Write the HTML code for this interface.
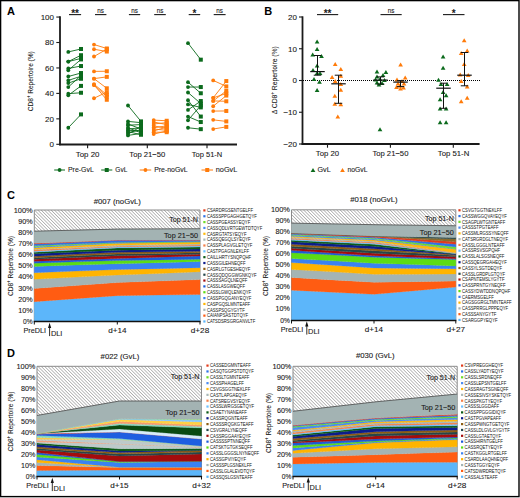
<!DOCTYPE html>
<html><head><meta charset="utf-8"><style>
html,body{margin:0;padding:0;background:#fff;}
body{width:520px;height:498px;overflow:hidden;position:relative;}
svg{position:absolute;left:0;top:0;font-family:"Liberation Sans", sans-serif;}
</style></head><body>
<svg width="520" height="498" viewBox="0 0 520 498">
<defs>
<pattern id="hatch" patternUnits="userSpaceOnUse" width="2.35" height="2.35" patternTransform="rotate(-45)">
<rect width="2.35" height="2.35" fill="#fff"/>
<rect x="0" y="0" width="0.7" height="2.35" fill="#a4a4a4"/>
</pattern>
</defs>
<rect x="0" y="0" width="520" height="498" fill="#fff"/>
<text x="7.00" y="15.20" font-size="11" text-anchor="start" font-weight="bold" fill="#000" stroke="#000" stroke-width="0.0" >A</text>
<line x1="60.00" y1="16.30" x2="60.00" y2="145.30" stroke="#1a1a1a" stroke-width="1.8" />
<line x1="59.10" y1="144.50" x2="237.00" y2="144.50" stroke="#1a1a1a" stroke-width="1.8" />
<line x1="56.30" y1="144.30" x2="60.00" y2="144.30" stroke="#1a1a1a" stroke-width="1.1" />
<text x="54.00" y="147.15" font-size="8.0" text-anchor="end" font-weight="normal" fill="#1a1a1a" stroke="#1a1a1a" stroke-width="0.1" >0</text>
<line x1="56.30" y1="118.85" x2="60.00" y2="118.85" stroke="#1a1a1a" stroke-width="1.1" />
<text x="54.00" y="121.70" font-size="8.0" text-anchor="end" font-weight="normal" fill="#1a1a1a" stroke="#1a1a1a" stroke-width="0.1" >20</text>
<line x1="56.30" y1="93.40" x2="60.00" y2="93.40" stroke="#1a1a1a" stroke-width="1.1" />
<text x="54.00" y="96.25" font-size="8.0" text-anchor="end" font-weight="normal" fill="#1a1a1a" stroke="#1a1a1a" stroke-width="0.1" >40</text>
<line x1="56.30" y1="67.95" x2="60.00" y2="67.95" stroke="#1a1a1a" stroke-width="1.1" />
<text x="54.00" y="70.80" font-size="8.0" text-anchor="end" font-weight="normal" fill="#1a1a1a" stroke="#1a1a1a" stroke-width="0.1" >60</text>
<line x1="56.30" y1="42.50" x2="60.00" y2="42.50" stroke="#1a1a1a" stroke-width="1.1" />
<text x="54.00" y="45.35" font-size="8.0" text-anchor="end" font-weight="normal" fill="#1a1a1a" stroke="#1a1a1a" stroke-width="0.1" >80</text>
<line x1="56.30" y1="17.05" x2="60.00" y2="17.05" stroke="#1a1a1a" stroke-width="1.1" />
<text x="54.00" y="19.90" font-size="8.0" text-anchor="end" font-weight="normal" fill="#1a1a1a" stroke="#1a1a1a" stroke-width="0.1" >100</text>
<line x1="87.60" y1="144.50" x2="87.60" y2="148.20" stroke="#1a1a1a" stroke-width="1.1" />
<line x1="147.30" y1="144.50" x2="147.30" y2="148.20" stroke="#1a1a1a" stroke-width="1.1" />
<line x1="207.00" y1="144.50" x2="207.00" y2="148.20" stroke="#1a1a1a" stroke-width="1.1" />
<text x="87.60" y="156.60" font-size="7.9" text-anchor="middle" font-weight="normal" fill="#1a1a1a" stroke="#1a1a1a" stroke-width="0.1" textLength="23.6" lengthAdjust="spacingAndGlyphs" >Top 20</text>
<text x="147.30" y="156.60" font-size="7.9" text-anchor="middle" font-weight="normal" fill="#1a1a1a" stroke="#1a1a1a" stroke-width="0.1" textLength="36" lengthAdjust="spacingAndGlyphs" >Top 21−50</text>
<text x="207.00" y="156.60" font-size="7.9" text-anchor="middle" font-weight="normal" fill="#1a1a1a" stroke="#1a1a1a" stroke-width="0.1" textLength="30.5" lengthAdjust="spacingAndGlyphs" >Top 51-N</text>
<text transform="translate(33.1,81.2) rotate(-90)" font-size="7.6" text-anchor="middle" fill="#1a1a1a" stroke="#1a1a1a" stroke-width="0.08" textLength="60" lengthAdjust="spacingAndGlyphs">CD8<tspan font-size="5" dy="-2.8">+</tspan><tspan dy="2.8"> Repertoire (%)</tspan></text>
<line x1="69.00" y1="14.60" x2="81.10" y2="14.60" stroke="#1a1a1a" stroke-width="1.1" />
<text x="75.05" y="16.60" font-size="10" text-anchor="middle" font-weight="bold" fill="#1a1a1a" stroke="#1a1a1a" stroke-width="0.0" >**</text>
<line x1="95.00" y1="14.60" x2="106.40" y2="14.60" stroke="#1a1a1a" stroke-width="1.1" />
<text x="100.70" y="12.60" font-size="6.3" text-anchor="middle" font-weight="normal" fill="#1a1a1a" stroke="#1a1a1a" stroke-width="0.1" >ns</text>
<line x1="128.90" y1="14.60" x2="140.20" y2="14.60" stroke="#1a1a1a" stroke-width="1.1" />
<text x="134.55" y="12.60" font-size="6.3" text-anchor="middle" font-weight="normal" fill="#1a1a1a" stroke="#1a1a1a" stroke-width="0.1" >ns</text>
<line x1="154.20" y1="14.60" x2="165.80" y2="14.60" stroke="#1a1a1a" stroke-width="1.1" />
<text x="160.00" y="12.60" font-size="6.3" text-anchor="middle" font-weight="normal" fill="#1a1a1a" stroke="#1a1a1a" stroke-width="0.1" >ns</text>
<line x1="188.70" y1="14.60" x2="200.20" y2="14.60" stroke="#1a1a1a" stroke-width="1.1" />
<text x="194.45" y="16.60" font-size="10" text-anchor="middle" font-weight="bold" fill="#1a1a1a" stroke="#1a1a1a" stroke-width="0.0" >*</text>
<line x1="213.70" y1="14.60" x2="225.60" y2="14.60" stroke="#1a1a1a" stroke-width="1.1" />
<text x="219.65" y="12.60" font-size="6.3" text-anchor="middle" font-weight="normal" fill="#1a1a1a" stroke="#1a1a1a" stroke-width="0.1" >ns</text>
<line x1="68.30" y1="51.92" x2="81.00" y2="48.99" stroke="#0b6a1c" stroke-width="0.9" />
<line x1="68.30" y1="61.59" x2="81.00" y2="55.23" stroke="#0b6a1c" stroke-width="0.9" />
<line x1="68.30" y1="61.59" x2="81.00" y2="58.41" stroke="#0b6a1c" stroke-width="0.9" />
<line x1="68.30" y1="68.46" x2="81.00" y2="66.04" stroke="#0b6a1c" stroke-width="0.9" />
<line x1="68.30" y1="70.24" x2="81.00" y2="59.42" stroke="#0b6a1c" stroke-width="0.9" />
<line x1="68.30" y1="76.48" x2="81.00" y2="73.04" stroke="#0b6a1c" stroke-width="0.9" />
<line x1="68.30" y1="80.42" x2="81.00" y2="76.22" stroke="#0b6a1c" stroke-width="0.9" />
<line x1="68.30" y1="83.09" x2="81.00" y2="78.77" stroke="#0b6a1c" stroke-width="0.9" />
<line x1="68.30" y1="87.04" x2="81.00" y2="75.59" stroke="#0b6a1c" stroke-width="0.9" />
<line x1="68.30" y1="93.65" x2="81.00" y2="92.76" stroke="#0b6a1c" stroke-width="0.9" />
<line x1="68.30" y1="95.31" x2="81.00" y2="85.89" stroke="#0b6a1c" stroke-width="0.9" />
<line x1="68.30" y1="127.76" x2="81.00" y2="114.40" stroke="#0b6a1c" stroke-width="0.9" />
<circle cx="68.3" cy="51.92" r="1.9" fill="#0b6a1c"/>
<rect x="79.00" y="46.99" width="4" height="4" fill="#0b6a1c"/>
<circle cx="68.3" cy="61.59" r="1.9" fill="#0b6a1c"/>
<rect x="79.00" y="53.23" width="4" height="4" fill="#0b6a1c"/>
<circle cx="68.3" cy="61.59" r="1.9" fill="#0b6a1c"/>
<rect x="79.00" y="56.41" width="4" height="4" fill="#0b6a1c"/>
<circle cx="68.3" cy="68.46" r="1.9" fill="#0b6a1c"/>
<rect x="79.00" y="64.04" width="4" height="4" fill="#0b6a1c"/>
<circle cx="68.3" cy="70.24" r="1.9" fill="#0b6a1c"/>
<rect x="79.00" y="57.42" width="4" height="4" fill="#0b6a1c"/>
<circle cx="68.3" cy="76.48" r="1.9" fill="#0b6a1c"/>
<rect x="79.00" y="71.04" width="4" height="4" fill="#0b6a1c"/>
<circle cx="68.3" cy="80.42" r="1.9" fill="#0b6a1c"/>
<rect x="79.00" y="74.22" width="4" height="4" fill="#0b6a1c"/>
<circle cx="68.3" cy="83.09" r="1.9" fill="#0b6a1c"/>
<rect x="79.00" y="76.77" width="4" height="4" fill="#0b6a1c"/>
<circle cx="68.3" cy="87.04" r="1.9" fill="#0b6a1c"/>
<rect x="79.00" y="73.59" width="4" height="4" fill="#0b6a1c"/>
<circle cx="68.3" cy="93.65" r="1.9" fill="#0b6a1c"/>
<rect x="79.00" y="90.76" width="4" height="4" fill="#0b6a1c"/>
<circle cx="68.3" cy="95.31" r="1.9" fill="#0b6a1c"/>
<rect x="79.00" y="83.89" width="4" height="4" fill="#0b6a1c"/>
<circle cx="68.3" cy="127.76" r="1.9" fill="#0b6a1c"/>
<rect x="79.00" y="112.40" width="4" height="4" fill="#0b6a1c"/>
<line x1="94.00" y1="44.54" x2="106.80" y2="48.48" stroke="#ff7b0a" stroke-width="0.9" />
<line x1="94.00" y1="49.24" x2="106.80" y2="51.53" stroke="#ff7b0a" stroke-width="0.9" />
<line x1="94.00" y1="56.50" x2="106.80" y2="49.12" stroke="#ff7b0a" stroke-width="0.9" />
<line x1="94.00" y1="71.39" x2="106.80" y2="71.26" stroke="#ff7b0a" stroke-width="0.9" />
<line x1="94.00" y1="78.64" x2="106.80" y2="76.86" stroke="#ff7b0a" stroke-width="0.9" />
<line x1="94.00" y1="78.64" x2="106.80" y2="88.31" stroke="#ff7b0a" stroke-width="0.9" />
<line x1="94.00" y1="84.24" x2="106.80" y2="94.67" stroke="#ff7b0a" stroke-width="0.9" />
<line x1="94.00" y1="85.00" x2="106.80" y2="99.76" stroke="#ff7b0a" stroke-width="0.9" />
<line x1="94.00" y1="98.24" x2="106.80" y2="92.13" stroke="#ff7b0a" stroke-width="0.9" />
<line x1="94.00" y1="85.00" x2="106.80" y2="96.58" stroke="#ff7b0a" stroke-width="0.9" />
<circle cx="94.0" cy="44.54" r="1.9" fill="#ff7b0a"/>
<rect x="104.80" y="46.48" width="4" height="4" fill="#ff7b0a"/>
<circle cx="94.0" cy="49.24" r="1.9" fill="#ff7b0a"/>
<rect x="104.80" y="49.53" width="4" height="4" fill="#ff7b0a"/>
<circle cx="94.0" cy="56.50" r="1.9" fill="#ff7b0a"/>
<rect x="104.80" y="47.12" width="4" height="4" fill="#ff7b0a"/>
<circle cx="94.0" cy="71.39" r="1.9" fill="#ff7b0a"/>
<rect x="104.80" y="69.26" width="4" height="4" fill="#ff7b0a"/>
<circle cx="94.0" cy="78.64" r="1.9" fill="#ff7b0a"/>
<rect x="104.80" y="74.86" width="4" height="4" fill="#ff7b0a"/>
<circle cx="94.0" cy="78.64" r="1.9" fill="#ff7b0a"/>
<rect x="104.80" y="86.31" width="4" height="4" fill="#ff7b0a"/>
<circle cx="94.0" cy="84.24" r="1.9" fill="#ff7b0a"/>
<rect x="104.80" y="92.67" width="4" height="4" fill="#ff7b0a"/>
<circle cx="94.0" cy="85.00" r="1.9" fill="#ff7b0a"/>
<rect x="104.80" y="97.76" width="4" height="4" fill="#ff7b0a"/>
<circle cx="94.0" cy="98.24" r="1.9" fill="#ff7b0a"/>
<rect x="104.80" y="90.13" width="4" height="4" fill="#ff7b0a"/>
<circle cx="94.0" cy="85.00" r="1.9" fill="#ff7b0a"/>
<rect x="104.80" y="94.58" width="4" height="4" fill="#ff7b0a"/>
<line x1="128.00" y1="105.49" x2="141.00" y2="121.40" stroke="#0b6a1c" stroke-width="0.9" />
<line x1="128.00" y1="121.40" x2="141.00" y2="122.67" stroke="#0b6a1c" stroke-width="0.9" />
<line x1="128.00" y1="123.94" x2="141.00" y2="129.03" stroke="#0b6a1c" stroke-width="0.9" />
<line x1="128.00" y1="125.21" x2="141.00" y2="124.58" stroke="#0b6a1c" stroke-width="0.9" />
<line x1="128.00" y1="127.76" x2="141.00" y2="132.85" stroke="#0b6a1c" stroke-width="0.9" />
<line x1="128.00" y1="129.03" x2="141.00" y2="127.76" stroke="#0b6a1c" stroke-width="0.9" />
<line x1="128.00" y1="130.30" x2="141.00" y2="130.94" stroke="#0b6a1c" stroke-width="0.9" />
<line x1="128.00" y1="131.58" x2="141.00" y2="134.76" stroke="#0b6a1c" stroke-width="0.9" />
<line x1="128.00" y1="132.85" x2="141.00" y2="129.67" stroke="#0b6a1c" stroke-width="0.9" />
<line x1="128.00" y1="134.12" x2="141.00" y2="126.49" stroke="#0b6a1c" stroke-width="0.9" />
<line x1="128.00" y1="135.39" x2="141.00" y2="133.48" stroke="#0b6a1c" stroke-width="0.9" />
<circle cx="128.0" cy="105.49" r="1.9" fill="#0b6a1c"/>
<rect x="139.00" y="119.40" width="4" height="4" fill="#0b6a1c"/>
<circle cx="128.0" cy="121.40" r="1.9" fill="#0b6a1c"/>
<rect x="139.00" y="120.67" width="4" height="4" fill="#0b6a1c"/>
<circle cx="128.0" cy="123.94" r="1.9" fill="#0b6a1c"/>
<rect x="139.00" y="127.03" width="4" height="4" fill="#0b6a1c"/>
<circle cx="128.0" cy="125.21" r="1.9" fill="#0b6a1c"/>
<rect x="139.00" y="122.58" width="4" height="4" fill="#0b6a1c"/>
<circle cx="128.0" cy="127.76" r="1.9" fill="#0b6a1c"/>
<rect x="139.00" y="130.85" width="4" height="4" fill="#0b6a1c"/>
<circle cx="128.0" cy="129.03" r="1.9" fill="#0b6a1c"/>
<rect x="139.00" y="125.76" width="4" height="4" fill="#0b6a1c"/>
<circle cx="128.0" cy="130.30" r="1.9" fill="#0b6a1c"/>
<rect x="139.00" y="128.94" width="4" height="4" fill="#0b6a1c"/>
<circle cx="128.0" cy="131.58" r="1.9" fill="#0b6a1c"/>
<rect x="139.00" y="132.76" width="4" height="4" fill="#0b6a1c"/>
<circle cx="128.0" cy="132.85" r="1.9" fill="#0b6a1c"/>
<rect x="139.00" y="127.67" width="4" height="4" fill="#0b6a1c"/>
<circle cx="128.0" cy="134.12" r="1.9" fill="#0b6a1c"/>
<rect x="139.00" y="124.49" width="4" height="4" fill="#0b6a1c"/>
<circle cx="128.0" cy="135.39" r="1.9" fill="#0b6a1c"/>
<rect x="139.00" y="131.48" width="4" height="4" fill="#0b6a1c"/>
<line x1="153.70" y1="120.12" x2="166.70" y2="120.76" stroke="#ff7b0a" stroke-width="0.9" />
<line x1="153.70" y1="122.03" x2="166.70" y2="124.58" stroke="#ff7b0a" stroke-width="0.9" />
<line x1="153.70" y1="123.94" x2="166.70" y2="122.67" stroke="#ff7b0a" stroke-width="0.9" />
<line x1="153.70" y1="125.85" x2="166.70" y2="128.39" stroke="#ff7b0a" stroke-width="0.9" />
<line x1="153.70" y1="127.76" x2="166.70" y2="125.85" stroke="#ff7b0a" stroke-width="0.9" />
<line x1="153.70" y1="129.03" x2="166.70" y2="130.30" stroke="#ff7b0a" stroke-width="0.9" />
<line x1="153.70" y1="130.94" x2="166.70" y2="127.12" stroke="#ff7b0a" stroke-width="0.9" />
<line x1="153.70" y1="132.21" x2="166.70" y2="132.21" stroke="#ff7b0a" stroke-width="0.9" />
<line x1="153.70" y1="134.12" x2="166.70" y2="130.94" stroke="#ff7b0a" stroke-width="0.9" />
<circle cx="153.7" cy="120.12" r="1.9" fill="#ff7b0a"/>
<rect x="164.70" y="118.76" width="4" height="4" fill="#ff7b0a"/>
<circle cx="153.7" cy="122.03" r="1.9" fill="#ff7b0a"/>
<rect x="164.70" y="122.58" width="4" height="4" fill="#ff7b0a"/>
<circle cx="153.7" cy="123.94" r="1.9" fill="#ff7b0a"/>
<rect x="164.70" y="120.67" width="4" height="4" fill="#ff7b0a"/>
<circle cx="153.7" cy="125.85" r="1.9" fill="#ff7b0a"/>
<rect x="164.70" y="126.39" width="4" height="4" fill="#ff7b0a"/>
<circle cx="153.7" cy="127.76" r="1.9" fill="#ff7b0a"/>
<rect x="164.70" y="123.85" width="4" height="4" fill="#ff7b0a"/>
<circle cx="153.7" cy="129.03" r="1.9" fill="#ff7b0a"/>
<rect x="164.70" y="128.30" width="4" height="4" fill="#ff7b0a"/>
<circle cx="153.7" cy="130.94" r="1.9" fill="#ff7b0a"/>
<rect x="164.70" y="125.12" width="4" height="4" fill="#ff7b0a"/>
<circle cx="153.7" cy="132.21" r="1.9" fill="#ff7b0a"/>
<rect x="164.70" y="130.21" width="4" height="4" fill="#ff7b0a"/>
<circle cx="153.7" cy="134.12" r="1.9" fill="#ff7b0a"/>
<rect x="164.70" y="128.94" width="4" height="4" fill="#ff7b0a"/>
<line x1="188.00" y1="43.14" x2="200.80" y2="59.68" stroke="#0b6a1c" stroke-width="0.9" />
<line x1="188.00" y1="82.20" x2="200.80" y2="93.27" stroke="#0b6a1c" stroke-width="0.9" />
<line x1="188.00" y1="87.04" x2="200.80" y2="87.04" stroke="#0b6a1c" stroke-width="0.9" />
<line x1="188.00" y1="92.51" x2="200.80" y2="103.58" stroke="#0b6a1c" stroke-width="0.9" />
<line x1="188.00" y1="100.27" x2="200.80" y2="116.56" stroke="#0b6a1c" stroke-width="0.9" />
<line x1="188.00" y1="104.47" x2="200.80" y2="107.40" stroke="#0b6a1c" stroke-width="0.9" />
<line x1="188.00" y1="109.94" x2="200.80" y2="101.04" stroke="#0b6a1c" stroke-width="0.9" />
<line x1="188.00" y1="116.56" x2="200.80" y2="122.03" stroke="#0b6a1c" stroke-width="0.9" />
<line x1="188.00" y1="120.25" x2="200.80" y2="105.49" stroke="#0b6a1c" stroke-width="0.9" />
<line x1="188.00" y1="127.76" x2="200.80" y2="129.16" stroke="#0b6a1c" stroke-width="0.9" />
<circle cx="188.0" cy="43.14" r="1.9" fill="#0b6a1c"/>
<rect x="198.80" y="57.68" width="4" height="4" fill="#0b6a1c"/>
<circle cx="188.0" cy="82.20" r="1.9" fill="#0b6a1c"/>
<rect x="198.80" y="91.27" width="4" height="4" fill="#0b6a1c"/>
<circle cx="188.0" cy="87.04" r="1.9" fill="#0b6a1c"/>
<rect x="198.80" y="85.04" width="4" height="4" fill="#0b6a1c"/>
<circle cx="188.0" cy="92.51" r="1.9" fill="#0b6a1c"/>
<rect x="198.80" y="101.58" width="4" height="4" fill="#0b6a1c"/>
<circle cx="188.0" cy="100.27" r="1.9" fill="#0b6a1c"/>
<rect x="198.80" y="114.56" width="4" height="4" fill="#0b6a1c"/>
<circle cx="188.0" cy="104.47" r="1.9" fill="#0b6a1c"/>
<rect x="198.80" y="105.40" width="4" height="4" fill="#0b6a1c"/>
<circle cx="188.0" cy="109.94" r="1.9" fill="#0b6a1c"/>
<rect x="198.80" y="99.04" width="4" height="4" fill="#0b6a1c"/>
<circle cx="188.0" cy="116.56" r="1.9" fill="#0b6a1c"/>
<rect x="198.80" y="120.03" width="4" height="4" fill="#0b6a1c"/>
<circle cx="188.0" cy="120.25" r="1.9" fill="#0b6a1c"/>
<rect x="198.80" y="103.49" width="4" height="4" fill="#0b6a1c"/>
<circle cx="188.0" cy="127.76" r="1.9" fill="#0b6a1c"/>
<rect x="198.80" y="127.16" width="4" height="4" fill="#0b6a1c"/>
<line x1="213.20" y1="80.42" x2="226.30" y2="86.40" stroke="#ff7b0a" stroke-width="0.9" />
<line x1="213.20" y1="97.85" x2="226.30" y2="81.06" stroke="#ff7b0a" stroke-width="0.9" />
<line x1="213.20" y1="100.91" x2="226.30" y2="90.86" stroke="#ff7b0a" stroke-width="0.9" />
<line x1="213.20" y1="97.85" x2="226.30" y2="93.40" stroke="#ff7b0a" stroke-width="0.9" />
<line x1="213.20" y1="106.25" x2="226.30" y2="95.56" stroke="#ff7b0a" stroke-width="0.9" />
<line x1="213.20" y1="100.91" x2="226.30" y2="101.29" stroke="#ff7b0a" stroke-width="0.9" />
<line x1="213.20" y1="111.09" x2="226.30" y2="110.96" stroke="#ff7b0a" stroke-width="0.9" />
<line x1="213.20" y1="119.87" x2="226.30" y2="121.40" stroke="#ff7b0a" stroke-width="0.9" />
<line x1="213.20" y1="129.03" x2="226.30" y2="126.87" stroke="#ff7b0a" stroke-width="0.9" />
<circle cx="213.2" cy="80.42" r="1.9" fill="#ff7b0a"/>
<rect x="224.30" y="84.40" width="4" height="4" fill="#ff7b0a"/>
<circle cx="213.2" cy="97.85" r="1.9" fill="#ff7b0a"/>
<rect x="224.30" y="79.06" width="4" height="4" fill="#ff7b0a"/>
<circle cx="213.2" cy="100.91" r="1.9" fill="#ff7b0a"/>
<rect x="224.30" y="88.86" width="4" height="4" fill="#ff7b0a"/>
<circle cx="213.2" cy="97.85" r="1.9" fill="#ff7b0a"/>
<rect x="224.30" y="91.40" width="4" height="4" fill="#ff7b0a"/>
<circle cx="213.2" cy="106.25" r="1.9" fill="#ff7b0a"/>
<rect x="224.30" y="93.56" width="4" height="4" fill="#ff7b0a"/>
<circle cx="213.2" cy="100.91" r="1.9" fill="#ff7b0a"/>
<rect x="224.30" y="99.29" width="4" height="4" fill="#ff7b0a"/>
<circle cx="213.2" cy="111.09" r="1.9" fill="#ff7b0a"/>
<rect x="224.30" y="108.96" width="4" height="4" fill="#ff7b0a"/>
<circle cx="213.2" cy="119.87" r="1.9" fill="#ff7b0a"/>
<rect x="224.30" y="119.40" width="4" height="4" fill="#ff7b0a"/>
<circle cx="213.2" cy="129.03" r="1.9" fill="#ff7b0a"/>
<rect x="224.30" y="124.87" width="4" height="4" fill="#ff7b0a"/>
<line x1="54.20" y1="170.00" x2="65.00" y2="170.00" stroke="#0b6a1c" stroke-width="1.0" />
<circle cx="59.60" cy="170" r="1.9" fill="#0b6a1c"/>
<text x="68.00" y="172.20" font-size="7.6" text-anchor="start" font-weight="normal" fill="#1a1a1a" stroke="#1a1a1a" stroke-width="0.1" textLength="25.8" lengthAdjust="spacingAndGlyphs" >Pre-GvL</text>
<line x1="101.20" y1="170.00" x2="112.30" y2="170.00" stroke="#0b6a1c" stroke-width="1.0" />
<rect x="104.75" y="168" width="4" height="4" fill="#0b6a1c"/>
<text x="115.30" y="172.20" font-size="7.6" text-anchor="start" font-weight="normal" fill="#1a1a1a" stroke="#1a1a1a" stroke-width="0.1" textLength="12" lengthAdjust="spacingAndGlyphs" >GvL</text>
<line x1="139.70" y1="170.00" x2="151.20" y2="170.00" stroke="#ff7b0a" stroke-width="1.0" />
<circle cx="145.45" cy="170" r="1.9" fill="#ff7b0a"/>
<text x="154.20" y="172.20" font-size="7.6" text-anchor="start" font-weight="normal" fill="#1a1a1a" stroke="#1a1a1a" stroke-width="0.1" textLength="33.5" lengthAdjust="spacingAndGlyphs" >Pre-noGvL</text>
<line x1="201.50" y1="170.00" x2="213.00" y2="170.00" stroke="#ff7b0a" stroke-width="1.0" />
<rect x="205.25" y="168" width="4" height="4" fill="#ff7b0a"/>
<text x="215.80" y="172.20" font-size="7.6" text-anchor="start" font-weight="normal" fill="#1a1a1a" stroke="#1a1a1a" stroke-width="0.1" textLength="21.5" lengthAdjust="spacingAndGlyphs" >noGvL</text>
<text x="264.30" y="15.20" font-size="11" text-anchor="start" font-weight="bold" fill="#000" stroke="#000" stroke-width="0.0" >B</text>
<line x1="302.50" y1="16.30" x2="302.50" y2="144.90" stroke="#1a1a1a" stroke-width="1.8" />
<line x1="301.60" y1="144.00" x2="479.60" y2="144.00" stroke="#1a1a1a" stroke-width="1.8" />
<line x1="299.00" y1="17.00" x2="302.50" y2="17.00" stroke="#1a1a1a" stroke-width="1.1" />
<text x="297.00" y="19.85" font-size="8.0" text-anchor="end" font-weight="normal" fill="#1a1a1a" stroke="#1a1a1a" stroke-width="0.1" >20</text>
<line x1="299.00" y1="48.75" x2="302.50" y2="48.75" stroke="#1a1a1a" stroke-width="1.1" />
<text x="297.00" y="51.60" font-size="8.0" text-anchor="end" font-weight="normal" fill="#1a1a1a" stroke="#1a1a1a" stroke-width="0.1" >10</text>
<line x1="299.00" y1="80.50" x2="302.50" y2="80.50" stroke="#1a1a1a" stroke-width="1.1" />
<text x="297.00" y="83.35" font-size="8.0" text-anchor="end" font-weight="normal" fill="#1a1a1a" stroke="#1a1a1a" stroke-width="0.1" >0</text>
<line x1="299.00" y1="112.25" x2="302.50" y2="112.25" stroke="#1a1a1a" stroke-width="1.1" />
<text x="297.00" y="115.10" font-size="8.0" text-anchor="end" font-weight="normal" fill="#1a1a1a" stroke="#1a1a1a" stroke-width="0.1" >−10</text>
<line x1="299.00" y1="144.00" x2="302.50" y2="144.00" stroke="#1a1a1a" stroke-width="1.1" />
<text x="297.00" y="146.85" font-size="8.0" text-anchor="end" font-weight="normal" fill="#1a1a1a" stroke="#1a1a1a" stroke-width="0.1" >−20</text>
<line x1="303.00" y1="80.50" x2="480.00" y2="80.50" stroke="#000" stroke-width="1.0" stroke-dasharray="1,1" shape-rendering="crispEdges"/>
<line x1="327.50" y1="144.00" x2="327.50" y2="147.70" stroke="#1a1a1a" stroke-width="1.1" />
<line x1="390.40" y1="144.00" x2="390.40" y2="147.70" stroke="#1a1a1a" stroke-width="1.1" />
<line x1="453.30" y1="144.00" x2="453.30" y2="147.70" stroke="#1a1a1a" stroke-width="1.1" />
<text x="327.50" y="156.40" font-size="7.9" text-anchor="middle" font-weight="normal" fill="#1a1a1a" stroke="#1a1a1a" stroke-width="0.1" textLength="23.3" lengthAdjust="spacingAndGlyphs" >Top 20</text>
<text x="390.40" y="156.40" font-size="7.9" text-anchor="middle" font-weight="normal" fill="#1a1a1a" stroke="#1a1a1a" stroke-width="0.1" textLength="36" lengthAdjust="spacingAndGlyphs" >Top 21−50</text>
<text x="453.50" y="156.40" font-size="7.9" text-anchor="middle" font-weight="normal" fill="#1a1a1a" stroke="#1a1a1a" stroke-width="0.1" textLength="31.5" lengthAdjust="spacingAndGlyphs" >Top 51-N</text>
<text transform="translate(276.8,80.2) rotate(-90)" font-size="7.6" text-anchor="middle" fill="#1a1a1a" stroke="#1a1a1a" stroke-width="0.08" textLength="68" lengthAdjust="spacingAndGlyphs">Δ CD8<tspan font-size="5" dy="-2.8">+</tspan><tspan dy="2.8"> Repertoire (%)</tspan></text>
<line x1="317.00" y1="14.60" x2="338.20" y2="14.60" stroke="#1a1a1a" stroke-width="1.1" />
<text x="327.60" y="16.60" font-size="10" text-anchor="middle" font-weight="bold" fill="#1a1a1a" stroke="#1a1a1a" stroke-width="0.0" >**</text>
<line x1="380.50" y1="14.60" x2="401.70" y2="14.60" stroke="#1a1a1a" stroke-width="1.1" />
<text x="391.10" y="12.60" font-size="6.3" text-anchor="middle" font-weight="normal" fill="#1a1a1a" stroke="#1a1a1a" stroke-width="0.1" >ns</text>
<line x1="443.00" y1="14.60" x2="464.50" y2="14.60" stroke="#1a1a1a" stroke-width="1.1" />
<text x="453.75" y="16.60" font-size="10" text-anchor="middle" font-weight="bold" fill="#1a1a1a" stroke="#1a1a1a" stroke-width="0.0" >*</text>
<path d="M314.75,43.50 L319.45,43.50 L317.10,39.50 Z" fill="#0b6a1c"/>
<path d="M314.75,51.00 L319.45,51.00 L317.10,47.00 Z" fill="#0b6a1c"/>
<path d="M310.35,56.40 L315.05,56.40 L312.70,52.40 Z" fill="#0b6a1c"/>
<path d="M319.15,58.00 L323.85,58.00 L321.50,54.00 Z" fill="#0b6a1c"/>
<path d="M314.75,67.60 L319.45,67.60 L317.10,63.60 Z" fill="#0b6a1c"/>
<path d="M310.65,72.10 L315.35,72.10 L313.00,68.10 Z" fill="#0b6a1c"/>
<path d="M314.75,75.10 L319.45,75.10 L317.10,71.10 Z" fill="#0b6a1c"/>
<path d="M317.65,75.10 L322.35,75.10 L320.00,71.10 Z" fill="#0b6a1c"/>
<path d="M311.65,81.10 L316.35,81.10 L314.00,77.10 Z" fill="#0b6a1c"/>
<path d="M317.15,83.70 L321.85,83.70 L319.50,79.70 Z" fill="#0b6a1c"/>
<path d="M314.75,92.10 L319.45,92.10 L317.10,88.10 Z" fill="#0b6a1c"/>
<path d="M332.85,66.00 L337.55,66.00 L335.20,62.00 Z" fill="#ff7b0a"/>
<path d="M338.45,71.10 L343.15,71.10 L340.80,67.10 Z" fill="#ff7b0a"/>
<path d="M329.75,79.10 L334.45,79.10 L332.10,75.10 Z" fill="#ff7b0a"/>
<path d="M338.45,77.70 L343.15,77.70 L340.80,73.70 Z" fill="#ff7b0a"/>
<path d="M332.85,83.10 L337.55,83.10 L335.20,79.10 Z" fill="#ff7b0a"/>
<path d="M338.45,86.10 L343.15,86.10 L340.80,82.10 Z" fill="#ff7b0a"/>
<path d="M338.45,91.70 L343.15,91.70 L340.80,87.70 Z" fill="#ff7b0a"/>
<path d="M332.45,97.80 L337.15,97.80 L334.80,93.80 Z" fill="#ff7b0a"/>
<path d="M332.45,105.80 L337.15,105.80 L334.80,101.80 Z" fill="#ff7b0a"/>
<path d="M338.45,106.20 L343.15,106.20 L340.80,102.20 Z" fill="#ff7b0a"/>
<path d="M335.45,118.60 L340.15,118.60 L337.80,114.60 Z" fill="#ff7b0a"/>
<path d="M374.65,73.50 L379.35,73.50 L377.00,69.50 Z" fill="#0b6a1c"/>
<path d="M383.55,73.90 L388.25,73.90 L385.90,69.90 Z" fill="#0b6a1c"/>
<path d="M380.65,76.90 L385.35,76.90 L383.00,72.90 Z" fill="#0b6a1c"/>
<path d="M374.65,78.50 L379.35,78.50 L377.00,74.50 Z" fill="#0b6a1c"/>
<path d="M373.15,81.40 L377.85,81.40 L375.50,77.40 Z" fill="#0b6a1c"/>
<path d="M377.65,80.90 L382.35,80.90 L380.00,76.90 Z" fill="#0b6a1c"/>
<path d="M382.15,81.90 L386.85,81.90 L384.50,77.90 Z" fill="#0b6a1c"/>
<path d="M374.65,84.40 L379.35,84.40 L377.00,80.40 Z" fill="#0b6a1c"/>
<path d="M379.65,84.90 L384.35,84.90 L382.00,80.90 Z" fill="#0b6a1c"/>
<path d="M376.65,86.40 L381.35,86.40 L379.00,82.40 Z" fill="#0b6a1c"/>
<path d="M377.65,131.20 L382.35,131.20 L380.00,127.20 Z" fill="#0b6a1c"/>
<path d="M398.25,66.40 L402.95,66.40 L400.60,62.40 Z" fill="#ff7b0a"/>
<path d="M402.85,79.50 L407.55,79.50 L405.20,75.50 Z" fill="#ff7b0a"/>
<path d="M394.65,81.50 L399.35,81.50 L397.00,77.50 Z" fill="#ff7b0a"/>
<path d="M399.65,82.90 L404.35,82.90 L402.00,78.90 Z" fill="#ff7b0a"/>
<path d="M395.65,85.40 L400.35,85.40 L398.00,81.40 Z" fill="#ff7b0a"/>
<path d="M401.65,85.40 L406.35,85.40 L404.00,81.40 Z" fill="#ff7b0a"/>
<path d="M397.65,87.40 L402.35,87.40 L400.00,83.40 Z" fill="#ff7b0a"/>
<path d="M394.15,88.90 L398.85,88.90 L396.50,84.90 Z" fill="#ff7b0a"/>
<path d="M401.15,89.40 L405.85,89.40 L403.50,85.40 Z" fill="#ff7b0a"/>
<path d="M398.15,90.40 L402.85,90.40 L400.50,86.40 Z" fill="#ff7b0a"/>
<path d="M440.75,58.60 L445.45,58.60 L443.10,54.60 Z" fill="#0b6a1c"/>
<path d="M440.75,69.70 L445.45,69.70 L443.10,65.70 Z" fill="#0b6a1c"/>
<path d="M436.15,81.70 L440.85,81.70 L438.50,77.70 Z" fill="#0b6a1c"/>
<path d="M438.65,86.10 L443.35,86.10 L441.00,82.10 Z" fill="#0b6a1c"/>
<path d="M444.75,86.10 L449.45,86.10 L447.10,82.10 Z" fill="#0b6a1c"/>
<path d="M440.75,94.10 L445.45,94.10 L443.10,90.10 Z" fill="#0b6a1c"/>
<path d="M443.75,97.20 L448.45,97.20 L446.10,93.20 Z" fill="#0b6a1c"/>
<path d="M437.75,101.20 L442.45,101.20 L440.10,97.20 Z" fill="#0b6a1c"/>
<path d="M437.75,110.60 L442.45,110.60 L440.10,106.60 Z" fill="#0b6a1c"/>
<path d="M443.75,110.60 L448.45,110.60 L446.10,106.60 Z" fill="#0b6a1c"/>
<path d="M437.75,124.30 L442.45,124.30 L440.10,120.30 Z" fill="#0b6a1c"/>
<path d="M443.75,124.30 L448.45,124.30 L446.10,120.30 Z" fill="#0b6a1c"/>
<path d="M461.85,42.30 L466.55,42.30 L464.20,38.30 Z" fill="#ff7b0a"/>
<path d="M458.85,55.00 L463.55,55.00 L461.20,51.00 Z" fill="#ff7b0a"/>
<path d="M464.85,52.60 L469.55,52.60 L467.20,48.60 Z" fill="#ff7b0a"/>
<path d="M461.85,66.00 L466.55,66.00 L464.20,62.00 Z" fill="#ff7b0a"/>
<path d="M457.85,76.50 L462.55,76.50 L460.20,72.50 Z" fill="#ff7b0a"/>
<path d="M465.85,77.10 L470.55,77.10 L468.20,73.10 Z" fill="#ff7b0a"/>
<path d="M458.85,83.10 L463.55,83.10 L461.20,79.10 Z" fill="#ff7b0a"/>
<path d="M464.85,88.50 L469.55,88.50 L467.20,84.50 Z" fill="#ff7b0a"/>
<path d="M464.85,99.80 L469.55,99.80 L467.20,95.80 Z" fill="#ff7b0a"/>
<path d="M458.85,103.20 L463.55,103.20 L461.20,99.20 Z" fill="#ff7b0a"/>
<line x1="317.50" y1="55.50" x2="317.50" y2="75.20" stroke="#111" stroke-width="1.05" />
<line x1="313.75" y1="55.50" x2="321.25" y2="55.50" stroke="#111" stroke-width="1.0" />
<line x1="313.75" y1="75.20" x2="321.25" y2="75.20" stroke="#111" stroke-width="1.0" />
<line x1="310.25" y1="71.60" x2="324.75" y2="71.60" stroke="#111" stroke-width="1.2" />
<line x1="338.50" y1="75.20" x2="338.50" y2="103.30" stroke="#111" stroke-width="1.05" />
<line x1="334.75" y1="75.20" x2="342.25" y2="75.20" stroke="#111" stroke-width="1.0" />
<line x1="334.75" y1="103.30" x2="342.25" y2="103.30" stroke="#111" stroke-width="1.0" />
<line x1="331.25" y1="83.80" x2="345.75" y2="83.80" stroke="#111" stroke-width="1.2" />
<line x1="380.50" y1="76.90" x2="380.50" y2="84.10" stroke="#111" stroke-width="1.05" />
<line x1="376.75" y1="76.90" x2="384.25" y2="76.90" stroke="#111" stroke-width="1.0" />
<line x1="376.75" y1="84.10" x2="384.25" y2="84.10" stroke="#111" stroke-width="1.0" />
<line x1="373.25" y1="80.10" x2="387.75" y2="80.10" stroke="#111" stroke-width="1.2" />
<line x1="400.50" y1="80.60" x2="400.50" y2="86.60" stroke="#111" stroke-width="1.05" />
<line x1="396.75" y1="80.60" x2="404.25" y2="80.60" stroke="#111" stroke-width="1.0" />
<line x1="396.75" y1="86.60" x2="404.25" y2="86.60" stroke="#111" stroke-width="1.0" />
<line x1="393.25" y1="82.10" x2="407.75" y2="82.10" stroke="#111" stroke-width="1.2" />
<line x1="443.50" y1="83.20" x2="443.50" y2="108.30" stroke="#111" stroke-width="1.05" />
<line x1="439.75" y1="83.20" x2="447.25" y2="83.20" stroke="#111" stroke-width="1.0" />
<line x1="439.75" y1="108.30" x2="447.25" y2="108.30" stroke="#111" stroke-width="1.0" />
<line x1="436.25" y1="88.20" x2="450.75" y2="88.20" stroke="#111" stroke-width="1.2" />
<line x1="464.50" y1="52.50" x2="464.50" y2="85.80" stroke="#111" stroke-width="1.05" />
<line x1="460.75" y1="52.50" x2="468.25" y2="52.50" stroke="#111" stroke-width="1.0" />
<line x1="460.75" y1="85.80" x2="468.25" y2="85.80" stroke="#111" stroke-width="1.0" />
<line x1="457.25" y1="75.20" x2="471.75" y2="75.20" stroke="#111" stroke-width="1.2" />
<path d="M310.65,172.10 L315.35,172.10 L313.00,168.10 Z" fill="#0b6a1c"/>
<text x="317.50" y="172.20" font-size="7.6" text-anchor="start" font-weight="normal" fill="#1a1a1a" stroke="#1a1a1a" stroke-width="0.1" textLength="13.2" lengthAdjust="spacingAndGlyphs" >GvL</text>
<path d="M340.15,172.10 L344.85,172.10 L342.50,168.10 Z" fill="#ff7b0a"/>
<text x="347.50" y="172.20" font-size="7.6" text-anchor="start" font-weight="normal" fill="#1a1a1a" stroke="#1a1a1a" stroke-width="0.1" textLength="20" lengthAdjust="spacingAndGlyphs" >noGvL</text>
<g id="c1">
<rect x="34.3" y="210.0" width="165.7" height="111.5" fill="url(#hatch)"/>
<path d="M34.3,321.5 L34.3,210.0 L200.0,210.0 L200.0,321.5" fill="none" stroke="#8a8a8a" stroke-width="1.0"/>
<path d="M34.30,301.65 C61.97,299.65 89.63,297.64 117.30,295.63 C144.87,295.26 172.43,294.89 200.00,294.52 L200.00,321.50 C172.43,321.50 144.87,321.50 117.30,321.50 C89.63,321.50 61.97,321.50 34.30,321.50 Z" fill="#5cb6fa" stroke="#5cb6fa" stroke-width="0.25"/>
<path d="M34.30,288.50 C61.97,286.53 89.63,284.56 117.30,282.59 C144.87,281.58 172.43,280.58 200.00,279.58 L200.00,294.52 C172.43,294.89 144.87,295.26 117.30,295.63 C89.63,297.64 61.97,299.65 34.30,301.65 Z" fill="#ff5c12" stroke="#ff5c12" stroke-width="0.25"/>
<path d="M34.30,279.35 C61.97,277.94 89.63,276.53 117.30,275.12 C144.87,274.00 172.43,272.89 200.00,271.77 L200.00,279.58 C172.43,280.58 144.87,281.58 117.30,282.59 C89.63,284.56 61.97,286.53 34.30,288.50 Z" fill="#a4b4b4" stroke="#a4b4b4" stroke-width="0.25"/>
<path d="M34.30,272.77 C61.97,271.70 89.63,270.62 117.30,269.54 C144.87,268.91 172.43,268.28 200.00,267.65 L200.00,271.77 C172.43,272.89 144.87,274.00 117.30,275.12 C89.63,276.53 61.97,277.94 34.30,279.35 Z" fill="#ffb400" stroke="#ffb400" stroke-width="0.25"/>
<path d="M34.30,266.42 C61.97,265.56 89.63,264.71 117.30,263.85 C144.87,263.07 172.43,262.29 200.00,261.51 L200.00,267.65 C172.43,268.28 144.87,268.91 117.30,269.54 C89.63,270.62 61.97,271.70 34.30,272.77 Z" fill="#3a82f2" stroke="#3a82f2" stroke-width="0.25"/>
<path d="M34.30,263.19 C61.97,262.33 89.63,261.48 117.30,260.62 C144.87,260.14 172.43,259.65 200.00,259.17 L200.00,261.51 C172.43,262.29 144.87,263.07 117.30,263.85 C89.63,264.71 61.97,265.56 34.30,266.42 Z" fill="#5cdc14" stroke="#5cdc14" stroke-width="0.25"/>
<path d="M34.30,261.29 C61.97,260.32 89.63,259.36 117.30,258.39 C144.87,257.57 172.43,256.76 200.00,255.94 L200.00,259.17 C172.43,259.65 144.87,260.14 117.30,260.62 C89.63,261.48 61.97,262.33 34.30,263.19 Z" fill="#1c5cd8" stroke="#1c5cd8" stroke-width="0.25"/>
<path d="M34.30,259.17 C61.97,258.02 89.63,256.87 117.30,255.72 C144.87,255.19 172.43,254.67 200.00,254.15 L200.00,255.94 C172.43,256.76 144.87,257.57 117.30,258.39 C89.63,259.36 61.97,260.32 34.30,261.29 Z" fill="#a40c0c" stroke="#a40c0c" stroke-width="0.25"/>
<path d="M34.30,257.72 C61.97,256.50 89.63,255.27 117.30,254.04 C144.87,253.60 172.43,253.15 200.00,252.70 L200.00,254.15 C172.43,254.67 144.87,255.19 117.30,255.72 C89.63,256.87 61.97,258.02 34.30,259.17 Z" fill="#24464a" stroke="#24464a" stroke-width="0.25"/>
<path d="M34.30,256.16 C61.97,254.90 89.63,253.63 117.30,252.37 C144.87,251.96 172.43,251.55 200.00,251.14 L200.00,252.70 C172.43,253.15 144.87,253.60 117.30,254.04 C89.63,255.27 61.97,256.50 34.30,257.72 Z" fill="#8c5c12" stroke="#8c5c12" stroke-width="0.25"/>
<path d="M34.30,253.71 C61.97,252.52 89.63,251.33 117.30,250.14 C144.87,249.77 172.43,249.40 200.00,249.03 L200.00,251.14 C172.43,251.55 144.87,251.96 117.30,252.37 C89.63,253.63 61.97,254.90 34.30,256.16 Z" fill="#0c1c8c" stroke="#0c1c8c" stroke-width="0.25"/>
<path d="M34.30,252.15 C61.97,250.73 89.63,249.32 117.30,247.91 C144.87,247.61 172.43,247.32 200.00,247.02 L200.00,249.03 C172.43,249.40 144.87,249.77 117.30,250.14 C89.63,251.33 61.97,252.52 34.30,253.71 Z" fill="#0b5a16" stroke="#0b5a16" stroke-width="0.25"/>
<path d="M34.30,251.14 C61.97,249.77 89.63,248.39 117.30,247.02 C144.87,246.68 172.43,246.35 200.00,246.01 L200.00,247.02 C172.43,247.32 144.87,247.61 117.30,247.91 C89.63,249.32 61.97,250.73 34.30,252.15 Z" fill="#6cc0ff" stroke="#6cc0ff" stroke-width="0.25"/>
<path d="M34.30,249.69 C61.97,248.50 89.63,247.32 117.30,246.13 C144.87,245.75 172.43,245.38 200.00,245.01 L200.00,246.01 C172.43,246.35 144.87,246.68 117.30,247.02 C89.63,248.39 61.97,249.77 34.30,251.14 Z" fill="#f5804a" stroke="#f5804a" stroke-width="0.25"/>
<path d="M34.30,249.14 C61.97,247.84 89.63,246.53 117.30,245.23 C144.87,244.83 172.43,244.42 200.00,244.01 L200.00,245.01 C172.43,245.38 144.87,245.75 117.30,246.13 C89.63,247.32 61.97,248.50 34.30,249.69 Z" fill="#a9b8b8" stroke="#a9b8b8" stroke-width="0.25"/>
<path d="M34.30,247.69 C61.97,246.20 89.63,244.71 117.30,243.23 C144.87,242.82 172.43,242.41 200.00,242.00 L200.00,244.01 C172.43,244.42 144.87,244.83 117.30,245.23 C89.63,246.53 61.97,247.84 34.30,249.14 Z" fill="#ffb80a" stroke="#ffb80a" stroke-width="0.25"/>
<path d="M34.30,246.68 C61.97,245.46 89.63,244.23 117.30,243.00 C144.87,242.63 172.43,242.26 200.00,241.89 L200.00,242.00 C172.43,242.41 144.87,242.82 117.30,243.23 C89.63,244.71 61.97,246.20 34.30,247.69 Z" fill="#4a8af2" stroke="#4a8af2" stroke-width="0.25"/>
<path d="M34.30,245.68 C61.97,244.60 89.63,243.52 117.30,242.45 C144.87,242.11 172.43,241.78 200.00,241.44 L200.00,241.89 C172.43,242.26 144.87,242.63 117.30,243.00 C89.63,244.23 61.97,245.46 34.30,246.68 Z" fill="#6fdc2a" stroke="#6fdc2a" stroke-width="0.25"/>
<path d="M34.30,244.12 C61.97,242.86 89.63,241.59 117.30,240.33 C144.87,240.29 172.43,240.25 200.00,240.22 L200.00,241.44 C172.43,241.78 144.87,242.11 117.30,242.45 C89.63,243.52 61.97,244.60 34.30,245.68 Z" fill="#2f72e6" stroke="#2f72e6" stroke-width="0.25"/>
<path d="M34.30,243.23 C61.97,242.11 89.63,241.00 117.30,239.88 C144.87,239.92 172.43,239.96 200.00,239.99 L200.00,240.22 C172.43,240.25 144.87,240.29 117.30,240.33 C89.63,241.59 61.97,242.86 34.30,244.12 Z" fill="#e23a1c" stroke="#e23a1c" stroke-width="0.25"/>
<path d="M34.30,231.19 C61.97,230.48 89.63,229.77 117.30,229.07 C144.87,228.95 172.43,228.84 200.00,228.73 L200.00,239.99 C172.43,239.96 144.87,239.92 117.30,239.88 C89.63,241.00 61.97,242.11 34.30,243.23 Z" fill="#a3b3b3" stroke="#a3b3b3" stroke-width="0.25"/>
<path d="M34.30,231.19 C61.97,230.48 89.63,229.77 117.30,229.07 C144.87,228.95 172.43,228.84 200.00,228.73 " fill="none" stroke="#4a4a4a" stroke-width="0.8"/>
<line x1="33.70" y1="321.50" x2="200.60" y2="321.50" stroke="#111" stroke-width="1.5" />
<line x1="34.30" y1="321.50" x2="34.30" y2="324.50" stroke="#111" stroke-width="1.0" />
<line x1="117.30" y1="321.50" x2="117.30" y2="324.50" stroke="#111" stroke-width="1.0" />
<line x1="200.00" y1="321.50" x2="200.00" y2="324.50" stroke="#111" stroke-width="1.0" />
<text x="32.70" y="324.00" font-size="7.0" text-anchor="end" font-weight="normal" fill="#1a1a1a" stroke="#1a1a1a" stroke-width="0.1" textLength="9.6" lengthAdjust="spacingAndGlyphs" >0%</text>
<text x="32.70" y="312.85" font-size="7.0" text-anchor="end" font-weight="normal" fill="#1a1a1a" stroke="#1a1a1a" stroke-width="0.1" textLength="14.4" lengthAdjust="spacingAndGlyphs" >10%</text>
<text x="32.70" y="301.70" font-size="7.0" text-anchor="end" font-weight="normal" fill="#1a1a1a" stroke="#1a1a1a" stroke-width="0.1" textLength="14.4" lengthAdjust="spacingAndGlyphs" >20%</text>
<text x="32.70" y="290.55" font-size="7.0" text-anchor="end" font-weight="normal" fill="#1a1a1a" stroke="#1a1a1a" stroke-width="0.1" textLength="14.4" lengthAdjust="spacingAndGlyphs" >30%</text>
<text x="32.70" y="279.40" font-size="7.0" text-anchor="end" font-weight="normal" fill="#1a1a1a" stroke="#1a1a1a" stroke-width="0.1" textLength="14.4" lengthAdjust="spacingAndGlyphs" >40%</text>
<text x="32.70" y="268.25" font-size="7.0" text-anchor="end" font-weight="normal" fill="#1a1a1a" stroke="#1a1a1a" stroke-width="0.1" textLength="14.4" lengthAdjust="spacingAndGlyphs" >50%</text>
<text x="32.70" y="257.10" font-size="7.0" text-anchor="end" font-weight="normal" fill="#1a1a1a" stroke="#1a1a1a" stroke-width="0.1" textLength="14.4" lengthAdjust="spacingAndGlyphs" >60%</text>
<text x="32.70" y="245.95" font-size="7.0" text-anchor="end" font-weight="normal" fill="#1a1a1a" stroke="#1a1a1a" stroke-width="0.1" textLength="14.4" lengthAdjust="spacingAndGlyphs" >70%</text>
<text x="32.70" y="234.80" font-size="7.0" text-anchor="end" font-weight="normal" fill="#1a1a1a" stroke="#1a1a1a" stroke-width="0.1" textLength="14.4" lengthAdjust="spacingAndGlyphs" >80%</text>
<text x="32.70" y="223.65" font-size="7.0" text-anchor="end" font-weight="normal" fill="#1a1a1a" stroke="#1a1a1a" stroke-width="0.1" textLength="14.4" lengthAdjust="spacingAndGlyphs" >90%</text>
<text x="32.70" y="212.50" font-size="7.0" text-anchor="end" font-weight="normal" fill="#1a1a1a" stroke="#1a1a1a" stroke-width="0.1" textLength="19.0" lengthAdjust="spacingAndGlyphs" >100%</text>
<text x="93.70" y="204.10" font-size="7.2" text-anchor="start" font-weight="normal" fill="#1a1a1a" stroke="#1a1a1a" stroke-width="0.1" textLength="47.2" lengthAdjust="spacingAndGlyphs" >#007 (noGvL)</text>
<text x="198.00" y="221.70" font-size="7.3" text-anchor="end" font-weight="normal" fill="#1a1a1a" stroke="#1a1a1a" stroke-width="0.1" textLength="28.8" lengthAdjust="spacingAndGlyphs" >Top 51-N</text>
<text x="198.00" y="237.80" font-size="7.3" text-anchor="end" font-weight="normal" fill="#1a1a1a" stroke="#1a1a1a" stroke-width="0.1" textLength="34" lengthAdjust="spacingAndGlyphs" >Top 21−50</text>
<text x="34.80" y="333.10" font-size="7.2" text-anchor="middle" font-weight="normal" fill="#1a1a1a" stroke="#1a1a1a" stroke-width="0.1" textLength="22.5" lengthAdjust="spacingAndGlyphs" >PreDLI</text>
<path d="M49.60,322.70 L48.00,327.90 L51.20,327.90 Z" fill="#111"/>
<line x1="49.60" y1="326.50" x2="49.60" y2="336.10" stroke="#1a1a1a" stroke-width="0.9" />
<text x="50.90" y="335.80" font-size="7.2" text-anchor="start" font-weight="normal" fill="#1a1a1a" stroke="#1a1a1a" stroke-width="0.1" textLength="11.5" lengthAdjust="spacingAndGlyphs" >DLI</text>
<text x="117.30" y="333.10" font-size="7.2" text-anchor="middle" font-weight="normal" fill="#1a1a1a" stroke="#1a1a1a" stroke-width="0.1" textLength="18.3" lengthAdjust="spacingAndGlyphs" >d+14</text>
<text x="200.00" y="333.10" font-size="7.2" text-anchor="middle" font-weight="normal" fill="#1a1a1a" stroke="#1a1a1a" stroke-width="0.1" textLength="18.5" lengthAdjust="spacingAndGlyphs" >d+28</text>
<rect x="203.30" y="209.30" width="2.2" height="2.2" fill="#e23a1c"/>
<text transform="translate(206.90,212.20) scale(0.85,1)" font-size="5.0" fill="#111">CSARDRGSENTGELFF</text>
<rect x="203.30" y="215.15" width="2.2" height="2.2" fill="#2f72e6"/>
<text transform="translate(206.90,218.05) scale(0.85,1)" font-size="5.0" fill="#111">CASSSPPGAGHGETQYF</text>
<rect x="203.30" y="220.99" width="2.2" height="2.2" fill="#6fdc2a"/>
<text transform="translate(206.90,223.89) scale(0.85,1)" font-size="5.0" fill="#111">CASSPGEASSYEQYF</text>
<rect x="203.30" y="226.84" width="2.2" height="2.2" fill="#4a8af2"/>
<text transform="translate(206.90,229.74) scale(0.85,1)" font-size="5.0" fill="#111">CASSQDLVRTGEWTDTQYF</text>
<rect x="203.30" y="232.68" width="2.2" height="2.2" fill="#ffb80a"/>
<text transform="translate(206.90,235.58) scale(0.85,1)" font-size="5.0" fill="#111">CASRGTATSYEQYF</text>
<rect x="203.30" y="238.53" width="2.2" height="2.2" fill="#a9b8b8"/>
<text transform="translate(206.90,241.43) scale(0.85,1)" font-size="5.0" fill="#111">CASSQEGQLSYEQYF</text>
<rect x="203.30" y="244.38" width="2.2" height="2.2" fill="#f5804a"/>
<text transform="translate(206.90,247.28) scale(0.85,1)" font-size="5.0" fill="#111">CASSPLAGVGLETQYF</text>
<rect x="203.30" y="250.22" width="2.2" height="2.2" fill="#6cc0ff"/>
<text transform="translate(206.90,253.12) scale(0.85,1)" font-size="5.0" fill="#111">CASTPGAGNLEKLFF</text>
<rect x="203.30" y="256.07" width="2.2" height="2.2" fill="#0b5a16"/>
<text transform="translate(206.90,258.97) scale(0.85,1)" font-size="5.0" fill="#111">CAILLHRTYSNQPQHF</text>
<rect x="203.30" y="261.91" width="2.2" height="2.2" fill="#0c1c8c"/>
<text transform="translate(206.90,264.81) scale(0.85,1)" font-size="5.0" fill="#111">CASSGILEHNEQFF</text>
<rect x="203.30" y="267.76" width="2.2" height="2.2" fill="#8c5c12"/>
<text transform="translate(206.90,270.66) scale(0.85,1)" font-size="5.0" fill="#111">CASRLGTGESHEQYF</text>
<rect x="203.30" y="273.61" width="2.2" height="2.2" fill="#24464a"/>
<text transform="translate(206.90,276.51) scale(0.85,1)" font-size="5.0" fill="#111">CASSQDQGGWGNKQYF</text>
<rect x="203.30" y="279.45" width="2.2" height="2.2" fill="#a40c0c"/>
<text transform="translate(206.90,282.35) scale(0.85,1)" font-size="5.0" fill="#111">CASSSAGQLNEQFF</text>
<rect x="203.30" y="285.30" width="2.2" height="2.2" fill="#1c5cd8"/>
<text transform="translate(206.90,288.20) scale(0.85,1)" font-size="5.0" fill="#111">CASSLASGWEQFF</text>
<rect x="203.30" y="291.14" width="2.2" height="2.2" fill="#5cdc14"/>
<text transform="translate(206.90,294.04) scale(0.85,1)" font-size="5.0" fill="#111">CASSLGWQLENKQYF</text>
<rect x="203.30" y="296.99" width="2.2" height="2.2" fill="#3a82f2"/>
<text transform="translate(206.90,299.89) scale(0.85,1)" font-size="5.0" fill="#111">CASSPGQGANYEQYF</text>
<rect x="203.30" y="302.84" width="2.2" height="2.2" fill="#ffb400"/>
<text transform="translate(206.90,305.74) scale(0.85,1)" font-size="5.0" fill="#111">CASPGQSLMNTEAFF</text>
<rect x="203.30" y="308.68" width="2.2" height="2.2" fill="#a4b4b4"/>
<text transform="translate(206.90,311.58) scale(0.85,1)" font-size="5.0" fill="#111">CASSPSQGYGYTF</text>
<rect x="203.30" y="314.53" width="2.2" height="2.2" fill="#ff5c12"/>
<text transform="translate(206.90,317.43) scale(0.85,1)" font-size="5.0" fill="#111">CAIANPSASTDTQYF</text>
<rect x="203.30" y="320.37" width="2.2" height="2.2" fill="#5cb6fa"/>
<text transform="translate(206.90,323.27) scale(0.85,1)" font-size="5.0" fill="#111">CATSDSRSGRGANVLTF</text>
</g>
<rect x="291.5" y="209.8" width="164.3" height="110.19999999999999" fill="url(#hatch)"/>
<path d="M291.5,320.0 L291.5,209.8 L455.8,209.8 L455.8,320.0" fill="none" stroke="#8a8a8a" stroke-width="1.0"/>
<path d="M291.50,290.14 C319.00,291.53 346.50,292.93 374.00,294.32 C401.27,291.90 428.53,289.47 455.80,287.05 L455.80,320.00 C428.53,320.00 401.27,320.00 374.00,320.00 C346.50,320.00 319.00,320.00 291.50,320.00 Z" fill="#5cb6fa" stroke="#5cb6fa" stroke-width="0.25"/>
<path d="M291.50,277.46 C319.00,279.08 346.50,280.70 374.00,282.31 C401.27,281.83 428.53,281.36 455.80,280.88 L455.80,287.05 C428.53,289.47 401.27,291.90 374.00,294.32 C346.50,292.93 319.00,291.53 291.50,290.14 Z" fill="#ff5c12" stroke="#ff5c12" stroke-width="0.25"/>
<path d="M291.50,269.53 C319.00,271.11 346.50,272.69 374.00,274.27 C401.27,274.16 428.53,274.05 455.80,273.94 L455.80,280.88 C428.53,281.36 401.27,281.83 374.00,282.31 C346.50,280.70 319.00,279.08 291.50,277.46 Z" fill="#a4b4b4" stroke="#a4b4b4" stroke-width="0.25"/>
<path d="M291.50,262.59 C319.00,264.35 346.50,266.11 374.00,267.88 C401.27,268.13 428.53,268.39 455.80,268.65 L455.80,273.94 C428.53,274.05 401.27,274.16 374.00,274.27 C346.50,272.69 319.00,271.11 291.50,269.53 Z" fill="#ffb400" stroke="#ffb400" stroke-width="0.25"/>
<path d="M291.50,258.51 C319.00,260.09 346.50,261.67 374.00,263.25 C401.27,264.13 428.53,265.01 455.80,265.89 L455.80,268.65 C428.53,268.39 401.27,268.13 374.00,267.88 C346.50,266.11 319.00,264.35 291.50,262.59 Z" fill="#3a82f2" stroke="#3a82f2" stroke-width="0.25"/>
<path d="M291.50,252.78 C319.00,254.25 346.50,255.72 374.00,257.19 C401.27,257.99 428.53,258.80 455.80,259.61 L455.80,265.89 C428.53,265.01 401.27,264.13 374.00,263.25 C346.50,261.67 319.00,260.09 291.50,258.51 Z" fill="#5cdc14" stroke="#5cdc14" stroke-width="0.25"/>
<path d="M291.50,250.35 C319.00,252.15 346.50,253.95 374.00,255.75 C401.27,256.75 428.53,257.74 455.80,258.73 L455.80,259.61 C428.53,258.80 401.27,257.99 374.00,257.19 C346.50,255.72 319.00,254.25 291.50,252.78 Z" fill="#1c5cd8" stroke="#1c5cd8" stroke-width="0.25"/>
<path d="M291.50,248.26 C319.00,249.91 346.50,251.57 374.00,253.22 C401.27,254.43 428.53,255.64 455.80,256.86 L455.80,258.73 C428.53,257.74 401.27,256.75 374.00,255.75 C346.50,253.95 319.00,252.15 291.50,250.35 Z" fill="#a40c0c" stroke="#a40c0c" stroke-width="0.25"/>
<path d="M291.50,246.28 C319.00,247.78 346.50,249.29 374.00,250.79 C401.27,252.34 428.53,253.88 455.80,255.42 L455.80,256.86 C428.53,255.64 401.27,254.43 374.00,253.22 C346.50,251.57 319.00,249.91 291.50,248.26 Z" fill="#24464a" stroke="#24464a" stroke-width="0.25"/>
<path d="M291.50,244.29 C319.00,245.76 346.50,247.23 374.00,248.70 C401.27,250.72 428.53,252.74 455.80,254.76 L455.80,255.42 C428.53,253.88 401.27,252.34 374.00,250.79 C346.50,249.29 319.00,247.78 291.50,246.28 Z" fill="#8c5c12" stroke="#8c5c12" stroke-width="0.25"/>
<path d="M291.50,241.76 C319.00,243.26 346.50,244.77 374.00,246.28 C401.27,248.92 428.53,251.57 455.80,254.21 L455.80,254.76 C428.53,252.74 401.27,250.72 374.00,248.70 C346.50,247.23 319.00,245.76 291.50,244.29 Z" fill="#0c1c8c" stroke="#0c1c8c" stroke-width="0.25"/>
<path d="M291.50,240.33 C319.00,241.65 346.50,242.97 374.00,244.29 C401.27,247.41 428.53,250.54 455.80,253.66 L455.80,254.21 C428.53,251.57 401.27,248.92 374.00,246.28 C346.50,244.77 319.00,243.26 291.50,241.76 Z" fill="#0b5a16" stroke="#0b5a16" stroke-width="0.25"/>
<path d="M291.50,239.33 C319.00,240.66 346.50,241.98 374.00,243.30 C401.27,246.64 428.53,249.99 455.80,253.33 L455.80,253.66 C428.53,250.54 401.27,247.41 374.00,244.29 C346.50,242.97 319.00,241.65 291.50,240.33 Z" fill="#6cc0ff" stroke="#6cc0ff" stroke-width="0.25"/>
<path d="M291.50,238.34 C319.00,239.66 346.50,240.99 374.00,242.31 C401.27,245.87 428.53,249.44 455.80,253.00 L455.80,253.33 C428.53,249.99 401.27,246.64 374.00,243.30 C346.50,241.98 319.00,240.66 291.50,239.33 Z" fill="#f5804a" stroke="#f5804a" stroke-width="0.25"/>
<path d="M291.50,237.35 C319.00,238.64 346.50,239.92 374.00,241.21 C401.27,245.06 428.53,248.92 455.80,252.78 L455.80,253.00 C428.53,249.44 401.27,245.87 374.00,242.31 C346.50,240.99 319.00,239.66 291.50,238.34 Z" fill="#a9b8b8" stroke="#a9b8b8" stroke-width="0.25"/>
<path d="M291.50,236.36 C319.00,237.61 346.50,238.86 374.00,240.11 C401.27,243.12 428.53,246.13 455.80,249.14 L455.80,252.78 C428.53,248.92 401.27,245.06 374.00,241.21 C346.50,239.92 319.00,238.64 291.50,237.35 Z" fill="#ffb80a" stroke="#ffb80a" stroke-width="0.25"/>
<path d="M291.50,235.37 C319.00,236.62 346.50,237.86 374.00,239.11 C401.27,242.38 428.53,245.65 455.80,248.92 L455.80,249.14 C428.53,246.13 401.27,243.12 374.00,240.11 C346.50,238.86 319.00,237.61 291.50,236.36 Z" fill="#4a8af2" stroke="#4a8af2" stroke-width="0.25"/>
<path d="M291.50,234.59 C319.00,235.81 346.50,237.02 374.00,238.23 C401.27,241.13 428.53,244.04 455.80,246.94 L455.80,248.92 C428.53,245.65 401.27,242.38 374.00,239.11 C346.50,237.86 319.00,236.62 291.50,235.37 Z" fill="#6fdc2a" stroke="#6fdc2a" stroke-width="0.25"/>
<path d="M291.50,233.82 C319.00,234.96 346.50,236.10 374.00,237.24 C401.27,239.55 428.53,241.87 455.80,244.18 L455.80,246.94 C428.53,244.04 401.27,241.13 374.00,238.23 C346.50,237.02 319.00,235.81 291.50,234.59 Z" fill="#2f72e6" stroke="#2f72e6" stroke-width="0.25"/>
<path d="M291.50,233.27 C319.00,234.26 346.50,235.26 374.00,236.25 C401.27,238.12 428.53,239.99 455.80,241.87 L455.80,244.18 C428.53,241.87 401.27,239.55 374.00,237.24 C346.50,236.10 319.00,234.96 291.50,233.82 Z" fill="#e23a1c" stroke="#e23a1c" stroke-width="0.25"/>
<path d="M291.50,233.16 C319.00,234.15 346.50,235.15 374.00,236.14 C401.27,237.06 428.53,237.97 455.80,238.89 L455.80,241.87 C428.53,239.99 401.27,238.12 374.00,236.25 C346.50,235.26 319.00,234.26 291.50,233.27 Z" fill="#8a6a2a" stroke="#8a6a2a" stroke-width="0.25"/>
<path d="M291.50,233.05 C319.00,234.04 346.50,235.04 374.00,236.03 C401.27,236.51 428.53,236.98 455.80,237.46 L455.80,238.89 C428.53,237.97 401.27,237.06 374.00,236.14 C346.50,235.15 319.00,234.15 291.50,233.16 Z" fill="#2a4a4a" stroke="#2a4a4a" stroke-width="0.25"/>
<path d="M291.50,223.13 C319.00,223.65 346.50,224.16 374.00,224.68 C401.27,225.04 428.53,225.41 455.80,225.78 L455.80,237.46 C428.53,236.98 401.27,236.51 374.00,236.03 C346.50,235.04 319.00,234.04 291.50,233.05 Z" fill="#a3b3b3" stroke="#a3b3b3" stroke-width="0.25"/>
<path d="M291.50,223.13 C319.00,223.65 346.50,224.16 374.00,224.68 C401.27,225.04 428.53,225.41 455.80,225.78 " fill="none" stroke="#4a4a4a" stroke-width="0.8"/>
<line x1="290.90" y1="320.50" x2="456.40" y2="320.50" stroke="#111" stroke-width="1.5" />
<line x1="291.50" y1="320.50" x2="291.50" y2="323.50" stroke="#111" stroke-width="1.0" />
<line x1="374.00" y1="320.50" x2="374.00" y2="323.50" stroke="#111" stroke-width="1.0" />
<line x1="455.80" y1="320.50" x2="455.80" y2="323.50" stroke="#111" stroke-width="1.0" />
<text x="289.90" y="322.50" font-size="7.0" text-anchor="end" font-weight="normal" fill="#1a1a1a" stroke="#1a1a1a" stroke-width="0.1" textLength="9.6" lengthAdjust="spacingAndGlyphs" >0%</text>
<text x="289.90" y="311.48" font-size="7.0" text-anchor="end" font-weight="normal" fill="#1a1a1a" stroke="#1a1a1a" stroke-width="0.1" textLength="14.4" lengthAdjust="spacingAndGlyphs" >10%</text>
<text x="289.90" y="300.46" font-size="7.0" text-anchor="end" font-weight="normal" fill="#1a1a1a" stroke="#1a1a1a" stroke-width="0.1" textLength="14.4" lengthAdjust="spacingAndGlyphs" >20%</text>
<text x="289.90" y="289.44" font-size="7.0" text-anchor="end" font-weight="normal" fill="#1a1a1a" stroke="#1a1a1a" stroke-width="0.1" textLength="14.4" lengthAdjust="spacingAndGlyphs" >30%</text>
<text x="289.90" y="278.42" font-size="7.0" text-anchor="end" font-weight="normal" fill="#1a1a1a" stroke="#1a1a1a" stroke-width="0.1" textLength="14.4" lengthAdjust="spacingAndGlyphs" >40%</text>
<text x="289.90" y="267.40" font-size="7.0" text-anchor="end" font-weight="normal" fill="#1a1a1a" stroke="#1a1a1a" stroke-width="0.1" textLength="14.4" lengthAdjust="spacingAndGlyphs" >50%</text>
<text x="289.90" y="256.38" font-size="7.0" text-anchor="end" font-weight="normal" fill="#1a1a1a" stroke="#1a1a1a" stroke-width="0.1" textLength="14.4" lengthAdjust="spacingAndGlyphs" >60%</text>
<text x="289.90" y="245.36" font-size="7.0" text-anchor="end" font-weight="normal" fill="#1a1a1a" stroke="#1a1a1a" stroke-width="0.1" textLength="14.4" lengthAdjust="spacingAndGlyphs" >70%</text>
<text x="289.90" y="234.34" font-size="7.0" text-anchor="end" font-weight="normal" fill="#1a1a1a" stroke="#1a1a1a" stroke-width="0.1" textLength="14.4" lengthAdjust="spacingAndGlyphs" >80%</text>
<text x="289.90" y="223.32" font-size="7.0" text-anchor="end" font-weight="normal" fill="#1a1a1a" stroke="#1a1a1a" stroke-width="0.1" textLength="14.4" lengthAdjust="spacingAndGlyphs" >90%</text>
<text x="289.90" y="212.30" font-size="7.0" text-anchor="end" font-weight="normal" fill="#1a1a1a" stroke="#1a1a1a" stroke-width="0.1" textLength="19.0" lengthAdjust="spacingAndGlyphs" >100%</text>
<text x="350.30" y="202.30" font-size="7.2" text-anchor="start" font-weight="normal" fill="#1a1a1a" stroke="#1a1a1a" stroke-width="0.1" textLength="47.2" lengthAdjust="spacingAndGlyphs" >#018 (noGvL)</text>
<text x="453.80" y="221.00" font-size="7.3" text-anchor="end" font-weight="normal" fill="#1a1a1a" stroke="#1a1a1a" stroke-width="0.1" textLength="28.8" lengthAdjust="spacingAndGlyphs" >Top 51-N</text>
<text x="453.80" y="235.40" font-size="7.3" text-anchor="end" font-weight="normal" fill="#1a1a1a" stroke="#1a1a1a" stroke-width="0.1" textLength="34" lengthAdjust="spacingAndGlyphs" >Top 21−50</text>
<text x="292.00" y="331.60" font-size="7.2" text-anchor="middle" font-weight="normal" fill="#1a1a1a" stroke="#1a1a1a" stroke-width="0.1" textLength="22.5" lengthAdjust="spacingAndGlyphs" >PreDLI</text>
<path d="M306.80,321.20 L305.20,326.40 L308.40,326.40 Z" fill="#111"/>
<line x1="306.80" y1="325.00" x2="306.80" y2="334.60" stroke="#1a1a1a" stroke-width="0.9" />
<text x="308.10" y="334.30" font-size="7.2" text-anchor="start" font-weight="normal" fill="#1a1a1a" stroke="#1a1a1a" stroke-width="0.1" textLength="11.5" lengthAdjust="spacingAndGlyphs" >DLI</text>
<text x="374.00" y="331.60" font-size="7.2" text-anchor="middle" font-weight="normal" fill="#1a1a1a" stroke="#1a1a1a" stroke-width="0.1" textLength="18.3" lengthAdjust="spacingAndGlyphs" >d+14</text>
<text x="455.80" y="331.60" font-size="7.2" text-anchor="middle" font-weight="normal" fill="#1a1a1a" stroke="#1a1a1a" stroke-width="0.1" textLength="18.5" lengthAdjust="spacingAndGlyphs" >d+27</text>
<rect x="458.40" y="209.20" width="2.2" height="2.2" fill="#e23a1c"/>
<text transform="translate(462.00,212.10) scale(0.85,1)" font-size="5.0" fill="#111">CSVGTGGTNEKLFF</text>
<rect x="458.40" y="214.97" width="2.2" height="2.2" fill="#2f72e6"/>
<text transform="translate(462.00,217.87) scale(0.85,1)" font-size="5.0" fill="#111">CASSWGGQVAYEQYF</text>
<rect x="458.40" y="220.74" width="2.2" height="2.2" fill="#6fdc2a"/>
<text transform="translate(462.00,223.64) scale(0.85,1)" font-size="5.0" fill="#111">CSAGPLWTGNTEAFF</text>
<rect x="458.40" y="226.51" width="2.2" height="2.2" fill="#4a8af2"/>
<text transform="translate(462.00,229.41) scale(0.85,1)" font-size="5.0" fill="#111">CASSSTPGTEAFF</text>
<rect x="458.40" y="232.28" width="2.2" height="2.2" fill="#ffb80a"/>
<text transform="translate(462.00,235.18) scale(0.85,1)" font-size="5.0" fill="#111">CASSMLRGSSYNEQFF</text>
<rect x="458.40" y="238.05" width="2.2" height="2.2" fill="#a9b8b8"/>
<text transform="translate(462.00,240.95) scale(0.85,1)" font-size="5.0" fill="#111">CATSRGRDGLTNEQYF</text>
<rect x="458.40" y="243.82" width="2.2" height="2.2" fill="#f5804a"/>
<text transform="translate(462.00,246.72) scale(0.85,1)" font-size="5.0" fill="#111">CASSLGGGLNTEAFF</text>
<rect x="458.40" y="249.59" width="2.2" height="2.2" fill="#6cc0ff"/>
<text transform="translate(462.00,252.49) scale(0.85,1)" font-size="5.0" fill="#111">CASSRSVSGPQHF</text>
<rect x="458.40" y="255.36" width="2.2" height="2.2" fill="#0b5a16"/>
<text transform="translate(462.00,258.26) scale(0.85,1)" font-size="5.0" fill="#111">CASSLALSGSNEQFF</text>
<rect x="458.40" y="261.13" width="2.2" height="2.2" fill="#0c1c8c"/>
<text transform="translate(462.00,264.03) scale(0.85,1)" font-size="5.0" fill="#111">CASSQEGRGAHEQYF</text>
<rect x="458.40" y="266.90" width="2.2" height="2.2" fill="#8c5c12"/>
<text transform="translate(462.00,269.80) scale(0.85,1)" font-size="5.0" fill="#111">CASSYLSGTDEQYF</text>
<rect x="458.40" y="272.67" width="2.2" height="2.2" fill="#24464a"/>
<text transform="translate(462.00,275.57) scale(0.85,1)" font-size="5.0" fill="#111">CASSLGRDPLGTQYF</text>
<rect x="458.40" y="278.44" width="2.2" height="2.2" fill="#a40c0c"/>
<text transform="translate(462.00,281.34) scale(0.85,1)" font-size="5.0" fill="#111">CSAPNTEMSLYGYTF</text>
<rect x="458.40" y="284.21" width="2.2" height="2.2" fill="#1c5cd8"/>
<text transform="translate(462.00,287.11) scale(0.85,1)" font-size="5.0" fill="#111">CASSPRNTGYNEQFF</text>
<rect x="458.40" y="289.98" width="2.2" height="2.2" fill="#5cdc14"/>
<text transform="translate(462.00,292.88) scale(0.85,1)" font-size="5.0" fill="#111">CASSYDWTDDNQPQHF</text>
<rect x="458.40" y="295.75" width="2.2" height="2.2" fill="#3a82f2"/>
<text transform="translate(462.00,298.65) scale(0.85,1)" font-size="5.0" fill="#111">CAERMSGELFF</text>
<rect x="458.40" y="301.52" width="2.2" height="2.2" fill="#ffb400"/>
<text transform="translate(462.00,304.42) scale(0.85,1)" font-size="5.0" fill="#111">CAGSGGRGLTMNTEAFF</text>
<rect x="458.40" y="307.29" width="2.2" height="2.2" fill="#a4b4b4"/>
<text transform="translate(462.00,310.19) scale(0.85,1)" font-size="5.0" fill="#111">CASSPRRGLPPPEQYF</text>
<rect x="458.40" y="313.06" width="2.2" height="2.2" fill="#ff5c12"/>
<text transform="translate(462.00,315.96) scale(0.85,1)" font-size="5.0" fill="#111">CASSSANYGYTF</text>
<rect x="458.40" y="318.83" width="2.2" height="2.2" fill="#5cb6fa"/>
<text transform="translate(462.00,321.73) scale(0.85,1)" font-size="5.0" fill="#111">CSARGGPYEQYF</text>
<rect x="37.0" y="366.3" width="164.5" height="110.19999999999999" fill="url(#hatch)"/>
<path d="M37.0,476.5 L37.0,366.3 L201.5,366.3 L201.5,476.5" fill="none" stroke="#8a8a8a" stroke-width="1.0"/>
<path d="M37.00,470.55 C64.50,470.40 92.00,470.26 119.50,470.11 C146.83,470.07 174.17,470.03 201.50,470.00 L201.50,476.50 C174.17,476.50 146.83,476.50 119.50,476.50 C92.00,476.50 64.50,476.50 37.00,476.50 Z" fill="#5cb6fa" stroke="#5cb6fa" stroke-width="0.25"/>
<path d="M37.00,465.59 C64.50,466.21 92.00,466.84 119.50,467.46 C146.83,467.46 174.17,467.46 201.50,467.46 L201.50,470.00 C174.17,470.03 146.83,470.07 119.50,470.11 C92.00,470.26 64.50,470.40 37.00,470.55 Z" fill="#ff5c12" stroke="#ff5c12" stroke-width="0.25"/>
<path d="M37.00,462.50 C64.50,464.12 92.00,465.74 119.50,467.35 C146.83,467.35 174.17,467.35 201.50,467.35 L201.50,467.46 C174.17,467.46 146.83,467.46 119.50,467.46 C92.00,466.84 64.50,466.21 37.00,465.59 Z" fill="#a4b4b4" stroke="#a4b4b4" stroke-width="0.25"/>
<path d="M37.00,459.75 C64.50,462.25 92.00,464.75 119.50,467.24 C146.83,467.24 174.17,467.24 201.50,467.24 L201.50,467.35 C174.17,467.35 146.83,467.35 119.50,467.35 C92.00,465.74 64.50,464.12 37.00,462.50 Z" fill="#ffb400" stroke="#ffb400" stroke-width="0.25"/>
<path d="M37.00,456.99 C64.50,458.83 92.00,460.67 119.50,462.50 C146.83,462.17 174.17,461.84 201.50,461.51 L201.50,467.24 C174.17,467.24 146.83,467.24 119.50,467.24 C92.00,464.75 64.50,462.25 37.00,459.75 Z" fill="#3a82f2" stroke="#3a82f2" stroke-width="0.25"/>
<path d="M37.00,454.57 C64.50,456.92 92.00,459.27 119.50,461.62 C146.83,461.51 174.17,461.40 201.50,461.29 L201.50,461.51 C174.17,461.84 146.83,462.17 119.50,462.50 C92.00,460.67 64.50,458.83 37.00,456.99 Z" fill="#5cdc14" stroke="#5cdc14" stroke-width="0.25"/>
<path d="M37.00,452.59 C64.50,455.56 92.00,458.54 119.50,461.51 C146.83,461.40 174.17,461.29 201.50,461.18 L201.50,461.29 C174.17,461.40 146.83,461.51 119.50,461.62 C92.00,459.27 64.50,456.92 37.00,454.57 Z" fill="#1c5cd8" stroke="#1c5cd8" stroke-width="0.25"/>
<path d="M37.00,450.05 C64.50,452.04 92.00,454.02 119.50,456.00 C146.83,455.34 174.17,454.68 201.50,454.02 L201.50,461.18 C174.17,461.29 146.83,461.40 119.50,461.51 C92.00,458.54 64.50,455.56 37.00,452.59 Z" fill="#a40c0c" stroke="#a40c0c" stroke-width="0.25"/>
<path d="M37.00,448.51 C64.50,450.35 92.00,452.18 119.50,454.02 C146.83,453.36 174.17,452.70 201.50,452.04 L201.50,454.02 C174.17,454.68 146.83,455.34 119.50,456.00 C92.00,454.02 64.50,452.04 37.00,450.05 Z" fill="#24464a" stroke="#24464a" stroke-width="0.25"/>
<path d="M37.00,446.64 C64.50,448.58 92.00,450.53 119.50,452.48 C146.83,451.82 174.17,451.15 201.50,450.49 L201.50,452.04 C174.17,452.70 146.83,453.36 119.50,454.02 C92.00,452.18 64.50,450.35 37.00,448.51 Z" fill="#8c5c12" stroke="#8c5c12" stroke-width="0.25"/>
<path d="M37.00,444.54 C64.50,446.71 92.00,448.88 119.50,451.04 C146.83,450.79 174.17,450.53 201.50,450.27 L201.50,450.49 C174.17,451.15 146.83,451.82 119.50,452.48 C92.00,450.53 64.50,448.58 37.00,446.64 Z" fill="#0c1c8c" stroke="#0c1c8c" stroke-width="0.25"/>
<path d="M37.00,443.00 C64.50,444.95 92.00,446.89 119.50,448.84 C146.83,448.73 174.17,448.62 201.50,448.51 L201.50,450.27 C174.17,450.53 146.83,450.79 119.50,451.04 C92.00,448.88 64.50,446.71 37.00,444.54 Z" fill="#0b5a16" stroke="#0b5a16" stroke-width="0.25"/>
<path d="M37.00,441.90 C64.50,442.60 92.00,443.29 119.50,443.99 C146.83,445.17 174.17,446.34 201.50,447.52 L201.50,448.51 C174.17,448.62 146.83,448.73 119.50,448.84 C92.00,446.89 64.50,444.95 37.00,443.00 Z" fill="#bccaca" stroke="#bccaca" stroke-width="0.25"/>
<path d="M37.00,440.24 C64.50,441.42 92.00,442.60 119.50,443.77 C146.83,444.95 174.17,446.12 201.50,447.30 L201.50,447.52 C174.17,446.34 146.83,445.17 119.50,443.99 C92.00,443.29 64.50,442.60 37.00,441.90 Z" fill="#f2a07e" stroke="#f2a07e" stroke-width="0.25"/>
<path d="M37.00,439.14 C64.50,439.25 92.00,439.36 119.50,439.47 C146.83,441.71 174.17,443.95 201.50,446.19 L201.50,447.30 C174.17,446.12 146.83,444.95 119.50,443.77 C92.00,442.60 64.50,441.42 37.00,440.24 Z" fill="#bccaca" stroke="#bccaca" stroke-width="0.25"/>
<path d="M37.00,437.60 C64.50,438.22 92.00,438.85 119.50,439.47 C146.83,441.71 174.17,443.95 201.50,446.19 L201.50,446.19 C174.17,443.95 146.83,441.71 119.50,439.47 C92.00,439.36 64.50,439.25 37.00,439.14 Z" fill="#ffc844" stroke="#ffc844" stroke-width="0.25"/>
<path d="M37.00,435.51 C64.50,436.50 92.00,437.49 119.50,438.48 C146.83,440.98 174.17,443.48 201.50,445.97 L201.50,446.19 C174.17,443.95 146.83,441.71 119.50,439.47 C92.00,438.85 64.50,438.22 37.00,437.60 Z" fill="#86dcc0" stroke="#86dcc0" stroke-width="0.25"/>
<path d="M37.00,434.29 C64.50,433.52 92.00,432.75 119.50,431.98 C146.83,434.33 174.17,436.68 201.50,439.03 L201.50,445.97 C174.17,443.48 146.83,440.98 119.50,438.48 C92.00,437.49 64.50,436.50 37.00,435.51 Z" fill="#1e5ee0" stroke="#1e5ee0" stroke-width="0.25"/>
<path d="M37.00,433.52 C64.50,433.01 92.00,432.49 119.50,431.98 C146.83,434.33 174.17,436.68 201.50,439.03 L201.50,439.03 C174.17,436.68 146.83,434.33 119.50,431.98 C92.00,432.75 64.50,433.52 37.00,434.29 Z" fill="#d23c3c" stroke="#d23c3c" stroke-width="0.25"/>
<path d="M37.00,433.52 C64.50,432.02 92.00,430.51 119.50,429.00 C146.83,431.32 174.17,433.63 201.50,435.95 L201.50,439.03 C174.17,436.68 146.83,434.33 119.50,431.98 C92.00,432.49 64.50,433.01 37.00,433.52 Z" fill="#d8ecf8" stroke="#d8ecf8" stroke-width="0.25"/>
<path d="M37.00,433.52 C64.50,430.69 92.00,427.87 119.50,425.04 C146.83,426.03 174.17,427.02 201.50,428.01 L201.50,435.95 C174.17,433.63 146.83,431.32 119.50,429.00 C92.00,430.51 64.50,432.02 37.00,433.52 Z" fill="#0a4a12" stroke="#0a4a12" stroke-width="0.25"/>
<path d="M37.00,433.52 C64.50,430.18 92.00,426.84 119.50,423.49 C146.83,424.49 174.17,425.48 201.50,426.47 L201.50,428.01 C174.17,427.02 146.83,426.03 119.50,425.04 C92.00,427.87 64.50,430.69 37.00,433.52 Z" fill="#86d8c0" stroke="#86d8c0" stroke-width="0.25"/>
<path d="M37.00,433.52 C64.50,429.52 92.00,425.51 119.50,421.51 C146.83,422.69 174.17,423.86 201.50,425.04 L201.50,426.47 C174.17,425.48 146.83,424.49 119.50,423.49 C92.00,426.84 64.50,430.18 37.00,433.52 Z" fill="#f59a70" stroke="#f59a70" stroke-width="0.25"/>
<path d="M37.00,433.52 C64.50,428.82 92.00,424.12 119.50,419.42 C146.83,420.26 174.17,421.11 201.50,421.95 L201.50,425.04 C174.17,423.86 146.83,422.69 119.50,421.51 C92.00,425.51 64.50,429.52 37.00,433.52 Z" fill="#ffd044" stroke="#ffd044" stroke-width="0.25"/>
<path d="M37.00,433.52 C64.50,428.64 92.00,423.75 119.50,418.87 C146.83,419.23 174.17,419.60 201.50,419.97 L201.50,421.95 C174.17,421.11 146.83,420.26 119.50,419.42 C92.00,424.12 64.50,428.82 37.00,433.52 Z" fill="#86c8ff" stroke="#86c8ff" stroke-width="0.25"/>
<path d="M37.00,433.52 C64.50,428.64 92.00,423.75 119.50,418.87 C146.83,418.98 174.17,419.09 201.50,419.20 L201.50,419.97 C174.17,419.60 146.83,419.23 119.50,418.87 C92.00,423.75 64.50,428.64 37.00,433.52 Z" fill="#98e070" stroke="#98e070" stroke-width="0.25"/>
<path d="M37.00,415.45 C64.50,410.64 92.00,405.83 119.50,401.01 C146.83,401.01 174.17,401.01 201.50,401.01 L201.50,419.20 C174.17,419.09 146.83,418.98 119.50,418.87 C92.00,423.75 64.50,428.64 37.00,433.52 Z" fill="#a3b3b3" stroke="#a3b3b3" stroke-width="0.25"/>
<path d="M37.00,415.45 C64.50,410.64 92.00,405.83 119.50,401.01 C146.83,401.01 174.17,401.01 201.50,401.01 " fill="none" stroke="#4a4a4a" stroke-width="0.8"/>
<line x1="36.40" y1="476.50" x2="202.10" y2="476.50" stroke="#111" stroke-width="1.5" />
<line x1="37.00" y1="476.50" x2="37.00" y2="479.50" stroke="#111" stroke-width="1.0" />
<line x1="119.50" y1="476.50" x2="119.50" y2="479.50" stroke="#111" stroke-width="1.0" />
<line x1="201.50" y1="476.50" x2="201.50" y2="479.50" stroke="#111" stroke-width="1.0" />
<text x="35.40" y="479.00" font-size="7.0" text-anchor="end" font-weight="normal" fill="#1a1a1a" stroke="#1a1a1a" stroke-width="0.1" textLength="9.6" lengthAdjust="spacingAndGlyphs" >0%</text>
<text x="35.40" y="467.98" font-size="7.0" text-anchor="end" font-weight="normal" fill="#1a1a1a" stroke="#1a1a1a" stroke-width="0.1" textLength="14.4" lengthAdjust="spacingAndGlyphs" >10%</text>
<text x="35.40" y="456.96" font-size="7.0" text-anchor="end" font-weight="normal" fill="#1a1a1a" stroke="#1a1a1a" stroke-width="0.1" textLength="14.4" lengthAdjust="spacingAndGlyphs" >20%</text>
<text x="35.40" y="445.94" font-size="7.0" text-anchor="end" font-weight="normal" fill="#1a1a1a" stroke="#1a1a1a" stroke-width="0.1" textLength="14.4" lengthAdjust="spacingAndGlyphs" >30%</text>
<text x="35.40" y="434.92" font-size="7.0" text-anchor="end" font-weight="normal" fill="#1a1a1a" stroke="#1a1a1a" stroke-width="0.1" textLength="14.4" lengthAdjust="spacingAndGlyphs" >40%</text>
<text x="35.40" y="423.90" font-size="7.0" text-anchor="end" font-weight="normal" fill="#1a1a1a" stroke="#1a1a1a" stroke-width="0.1" textLength="14.4" lengthAdjust="spacingAndGlyphs" >50%</text>
<text x="35.40" y="412.88" font-size="7.0" text-anchor="end" font-weight="normal" fill="#1a1a1a" stroke="#1a1a1a" stroke-width="0.1" textLength="14.4" lengthAdjust="spacingAndGlyphs" >60%</text>
<text x="35.40" y="401.86" font-size="7.0" text-anchor="end" font-weight="normal" fill="#1a1a1a" stroke="#1a1a1a" stroke-width="0.1" textLength="14.4" lengthAdjust="spacingAndGlyphs" >70%</text>
<text x="35.40" y="390.84" font-size="7.0" text-anchor="end" font-weight="normal" fill="#1a1a1a" stroke="#1a1a1a" stroke-width="0.1" textLength="14.4" lengthAdjust="spacingAndGlyphs" >80%</text>
<text x="35.40" y="379.82" font-size="7.0" text-anchor="end" font-weight="normal" fill="#1a1a1a" stroke="#1a1a1a" stroke-width="0.1" textLength="14.4" lengthAdjust="spacingAndGlyphs" >90%</text>
<text x="35.40" y="368.80" font-size="7.0" text-anchor="end" font-weight="normal" fill="#1a1a1a" stroke="#1a1a1a" stroke-width="0.1" textLength="19.0" lengthAdjust="spacingAndGlyphs" >100%</text>
<text x="100.60" y="358.90" font-size="7.2" text-anchor="start" font-weight="normal" fill="#1a1a1a" stroke="#1a1a1a" stroke-width="0.1" textLength="38.7" lengthAdjust="spacingAndGlyphs" >#022 (GvL)</text>
<text x="199.50" y="379.20" font-size="7.3" text-anchor="end" font-weight="normal" fill="#1a1a1a" stroke="#1a1a1a" stroke-width="0.1" textLength="28.8" lengthAdjust="spacingAndGlyphs" >Top 51-N</text>
<text x="199.50" y="415.20" font-size="7.3" text-anchor="end" font-weight="normal" fill="#1a1a1a" stroke="#1a1a1a" stroke-width="0.1" textLength="34" lengthAdjust="spacingAndGlyphs" >Top 21−50</text>
<text x="37.50" y="488.10" font-size="7.2" text-anchor="middle" font-weight="normal" fill="#1a1a1a" stroke="#1a1a1a" stroke-width="0.1" textLength="22.5" lengthAdjust="spacingAndGlyphs" >PreDLI</text>
<path d="M52.30,477.70 L50.70,482.90 L53.90,482.90 Z" fill="#111"/>
<line x1="52.30" y1="481.50" x2="52.30" y2="491.10" stroke="#1a1a1a" stroke-width="0.9" />
<text x="53.60" y="490.80" font-size="7.2" text-anchor="start" font-weight="normal" fill="#1a1a1a" stroke="#1a1a1a" stroke-width="0.1" textLength="11.5" lengthAdjust="spacingAndGlyphs" >DLI</text>
<text x="119.50" y="488.10" font-size="7.2" text-anchor="middle" font-weight="normal" fill="#1a1a1a" stroke="#1a1a1a" stroke-width="0.1" textLength="18.3" lengthAdjust="spacingAndGlyphs" >d+15</text>
<text x="201.50" y="488.10" font-size="7.2" text-anchor="middle" font-weight="normal" fill="#1a1a1a" stroke="#1a1a1a" stroke-width="0.1" textLength="18.5" lengthAdjust="spacingAndGlyphs" >d+32</text>
<rect x="206.40" y="364.50" width="2.2" height="2.2" fill="#e23a1c"/>
<text transform="translate(210.00,367.40) scale(0.85,1)" font-size="5.0" fill="#111">CASSEDGMNTEAFF</text>
<rect x="206.40" y="370.35" width="2.2" height="2.2" fill="#2f72e6"/>
<text transform="translate(210.00,373.25) scale(0.85,1)" font-size="5.0" fill="#111">CASQTGGPSTDTQYF</text>
<rect x="206.40" y="376.20" width="2.2" height="2.2" fill="#6fdc2a"/>
<text transform="translate(210.00,379.10) scale(0.85,1)" font-size="5.0" fill="#111">CASSLTGMNTEAFF</text>
<rect x="206.40" y="382.05" width="2.2" height="2.2" fill="#4a8af2"/>
<text transform="translate(210.00,384.95) scale(0.85,1)" font-size="5.0" fill="#111">CASSPHAGELFF</text>
<rect x="206.40" y="387.90" width="2.2" height="2.2" fill="#ffb80a"/>
<text transform="translate(210.00,390.80) scale(0.85,1)" font-size="5.0" fill="#111">CSVGSGGTNEKLFF</text>
<rect x="206.40" y="393.75" width="2.2" height="2.2" fill="#a9b8b8"/>
<text transform="translate(210.00,396.65) scale(0.85,1)" font-size="5.0" fill="#111">CASTLAPGAEQYF</text>
<rect x="206.40" y="399.60" width="2.2" height="2.2" fill="#f5804a"/>
<text transform="translate(210.00,402.50) scale(0.85,1)" font-size="5.0" fill="#111">CATSREGVSYEQYF</text>
<rect x="206.40" y="405.45" width="2.2" height="2.2" fill="#6cc0ff"/>
<text transform="translate(210.00,408.35) scale(0.85,1)" font-size="5.0" fill="#111">CASSLWRGSGETQYF</text>
<rect x="206.40" y="411.30" width="2.2" height="2.2" fill="#0b5a16"/>
<text transform="translate(210.00,414.20) scale(0.85,1)" font-size="5.0" fill="#111">CSAETYNANEAFF</text>
<rect x="206.40" y="417.15" width="2.2" height="2.2" fill="#0c1c8c"/>
<text transform="translate(210.00,420.05) scale(0.85,1)" font-size="5.0" fill="#111">CASSRQGNTEAFF</text>
<rect x="206.40" y="423.00" width="2.2" height="2.2" fill="#8c5c12"/>
<text transform="translate(210.00,425.90) scale(0.85,1)" font-size="5.0" fill="#111">CASSSRQGKGTEAFF</text>
<rect x="206.40" y="428.85" width="2.2" height="2.2" fill="#24464a"/>
<text transform="translate(210.00,431.75) scale(0.85,1)" font-size="5.0" fill="#111">CSVGRALYNEQFF</text>
<rect x="206.40" y="434.70" width="2.2" height="2.2" fill="#a40c0c"/>
<text transform="translate(210.00,437.60) scale(0.85,1)" font-size="5.0" fill="#111">CASSRGGAAYEQYF</text>
<rect x="206.40" y="440.55" width="2.2" height="2.2" fill="#1c5cd8"/>
<text transform="translate(210.00,443.45) scale(0.85,1)" font-size="5.0" fill="#111">CASSSSPTNNEQFF</text>
<rect x="206.40" y="446.40" width="2.2" height="2.2" fill="#5cdc14"/>
<text transform="translate(210.00,449.30) scale(0.85,1)" font-size="5.0" fill="#111">CATSKTGTGKSEQFF</text>
<rect x="206.40" y="452.25" width="2.2" height="2.2" fill="#3a82f2"/>
<text transform="translate(210.00,455.15) scale(0.85,1)" font-size="5.0" fill="#111">CASSLGGGSLNYNEQFF</text>
<rect x="206.40" y="458.10" width="2.2" height="2.2" fill="#ffb400"/>
<text transform="translate(210.00,461.00) scale(0.85,1)" font-size="5.0" fill="#111">CASSGPVIYEQYF</text>
<rect x="206.40" y="463.95" width="2.2" height="2.2" fill="#a4b4b4"/>
<text transform="translate(210.00,466.85) scale(0.85,1)" font-size="5.0" fill="#111">CASSSPLGSNEKLFF</text>
<rect x="206.40" y="469.80" width="2.2" height="2.2" fill="#ff5c12"/>
<text transform="translate(210.00,472.70) scale(0.85,1)" font-size="5.0" fill="#111">CASSLGLALEVDTQYF</text>
<rect x="206.40" y="475.65" width="2.2" height="2.2" fill="#5cb6fa"/>
<text transform="translate(210.00,478.55) scale(0.85,1)" font-size="5.0" fill="#111">CASSQSLGSNTEAFF</text>
<rect x="293.0" y="366.3" width="164.2" height="109.69999999999999" fill="url(#hatch)"/>
<path d="M293.0,476.0 L293.0,366.3 L457.2,366.3 L457.2,476.0" fill="none" stroke="#8a8a8a" stroke-width="1.0"/>
<path d="M293.00,463.93 C320.57,463.42 348.13,462.91 375.70,462.40 C402.87,462.32 430.03,462.25 457.20,462.18 L457.20,476.00 C430.03,476.00 402.87,476.00 375.70,476.00 C348.13,476.00 320.57,476.00 293.00,476.00 Z" fill="#5cb6fa" stroke="#5cb6fa" stroke-width="0.25"/>
<path d="M293.00,457.35 C320.57,456.47 348.13,455.60 375.70,454.72 C402.87,453.84 430.03,452.96 457.20,452.09 L457.20,462.18 C430.03,462.25 402.87,462.32 375.70,462.40 C348.13,462.91 320.57,463.42 293.00,463.93 Z" fill="#ff5c12" stroke="#ff5c12" stroke-width="0.25"/>
<path d="M293.00,453.29 C320.57,451.79 348.13,450.29 375.70,448.79 C402.87,448.14 430.03,447.48 457.20,446.82 L457.20,452.09 C430.03,452.96 402.87,453.84 375.70,454.72 C348.13,455.60 320.57,456.47 293.00,457.35 Z" fill="#a4b4b4" stroke="#a4b4b4" stroke-width="0.25"/>
<path d="M293.00,450.44 C320.57,447.88 348.13,445.32 375.70,442.76 C402.87,441.70 430.03,440.64 457.20,439.58 L457.20,446.82 C430.03,447.48 402.87,448.14 375.70,448.79 C348.13,450.29 320.57,451.79 293.00,453.29 Z" fill="#ffb400" stroke="#ffb400" stroke-width="0.25"/>
<path d="M293.00,447.92 C320.57,445.91 348.13,443.89 375.70,441.88 C402.87,440.82 430.03,439.76 457.20,438.70 L457.20,439.58 C430.03,440.64 402.87,441.70 375.70,442.76 C348.13,445.32 320.57,447.88 293.00,450.44 Z" fill="#3a82f2" stroke="#3a82f2" stroke-width="0.25"/>
<path d="M293.00,445.50 C320.57,444.00 348.13,442.50 375.70,441.01 C402.87,440.02 430.03,439.03 457.20,438.04 L457.20,438.70 C430.03,439.76 402.87,440.82 375.70,441.88 C348.13,443.89 320.57,445.91 293.00,447.92 Z" fill="#5cdc14" stroke="#5cdc14" stroke-width="0.25"/>
<path d="M293.00,442.98 C320.57,441.66 348.13,440.35 375.70,439.03 C402.87,438.34 430.03,437.64 457.20,436.95 L457.20,438.04 C430.03,439.03 402.87,440.02 375.70,441.01 C348.13,442.50 320.57,444.00 293.00,445.50 Z" fill="#1c5cd8" stroke="#1c5cd8" stroke-width="0.25"/>
<path d="M293.00,441.99 C320.57,439.98 348.13,437.97 375.70,435.96 C402.87,435.41 430.03,434.86 457.20,434.31 L457.20,436.95 C430.03,437.64 402.87,438.34 375.70,439.03 C348.13,440.35 320.57,441.66 293.00,442.98 Z" fill="#a40c0c" stroke="#a40c0c" stroke-width="0.25"/>
<path d="M293.00,440.46 C320.57,438.15 348.13,435.85 375.70,433.55 C402.87,433.07 430.03,432.60 457.20,432.12 L457.20,434.31 C430.03,434.86 402.87,435.41 375.70,435.96 C348.13,437.97 320.57,439.98 293.00,441.99 Z" fill="#24464a" stroke="#24464a" stroke-width="0.25"/>
<path d="M293.00,438.48 C320.57,436.22 348.13,433.95 375.70,431.68 C402.87,431.10 430.03,430.51 457.20,429.93 L457.20,432.12 C430.03,432.60 402.87,433.07 375.70,433.55 C348.13,435.85 320.57,438.15 293.00,440.46 Z" fill="#8c5c12" stroke="#8c5c12" stroke-width="0.25"/>
<path d="M293.00,436.51 C320.57,433.84 348.13,431.17 375.70,428.50 C402.87,428.13 430.03,427.77 457.20,427.40 L457.20,429.93 C430.03,430.51 402.87,431.10 375.70,431.68 C348.13,433.95 320.57,436.22 293.00,438.48 Z" fill="#0c1c8c" stroke="#0c1c8c" stroke-width="0.25"/>
<path d="M293.00,434.97 C320.57,432.19 348.13,429.41 375.70,426.63 C402.87,426.34 430.03,426.05 457.20,425.76 L457.20,427.40 C430.03,427.77 402.87,428.13 375.70,428.50 C348.13,431.17 320.57,433.84 293.00,436.51 Z" fill="#0b5a16" stroke="#0b5a16" stroke-width="0.25"/>
<path d="M293.00,433.98 C320.57,431.17 348.13,428.35 375.70,425.54 C402.87,425.10 430.03,424.66 457.20,424.22 L457.20,425.76 C430.03,426.05 402.87,426.34 375.70,426.63 C348.13,429.41 320.57,432.19 293.00,434.97 Z" fill="#6cc0ff" stroke="#6cc0ff" stroke-width="0.25"/>
<path d="M293.00,432.45 C320.57,429.71 348.13,426.96 375.70,424.22 C402.87,423.71 430.03,423.20 457.20,422.69 L457.20,424.22 C430.03,424.66 402.87,425.10 375.70,425.54 C348.13,428.35 320.57,431.17 293.00,433.98 Z" fill="#f5804a" stroke="#f5804a" stroke-width="0.25"/>
<path d="M293.00,431.02 C320.57,428.35 348.13,425.68 375.70,423.01 C402.87,422.39 430.03,421.77 457.20,421.15 L457.20,422.69 C430.03,423.20 402.87,423.71 375.70,424.22 C348.13,426.96 320.57,429.71 293.00,432.45 Z" fill="#a9b8b8" stroke="#a9b8b8" stroke-width="0.25"/>
<path d="M293.00,430.04 C320.57,427.26 348.13,424.48 375.70,421.70 C402.87,420.97 430.03,420.24 457.20,419.50 L457.20,421.15 C430.03,421.77 402.87,422.39 375.70,423.01 C348.13,425.68 320.57,428.35 293.00,431.02 Z" fill="#ffb80a" stroke="#ffb80a" stroke-width="0.25"/>
<path d="M293.00,427.51 C320.57,425.14 348.13,422.76 375.70,420.38 C402.87,419.54 430.03,418.70 457.20,417.86 L457.20,419.50 C430.03,420.24 402.87,420.97 375.70,421.70 C348.13,424.48 320.57,427.26 293.00,430.04 Z" fill="#4a8af2" stroke="#4a8af2" stroke-width="0.25"/>
<path d="M293.00,426.53 C320.57,424.15 348.13,421.77 375.70,419.39 C402.87,418.44 430.03,417.49 457.20,416.54 L457.20,417.86 C430.03,418.70 402.87,419.54 375.70,420.38 C348.13,422.76 320.57,425.14 293.00,427.51 Z" fill="#6fdc2a" stroke="#6fdc2a" stroke-width="0.25"/>
<path d="M293.00,425.65 C320.57,423.27 348.13,420.89 375.70,418.52 C402.87,417.46 430.03,416.40 457.20,415.34 L457.20,416.54 C430.03,417.49 402.87,418.44 375.70,419.39 C348.13,421.77 320.57,424.15 293.00,426.53 Z" fill="#2f72e6" stroke="#2f72e6" stroke-width="0.25"/>
<path d="M293.00,425.21 C320.57,422.80 348.13,420.38 375.70,417.97 C402.87,416.73 430.03,415.48 457.20,414.24 L457.20,415.34 C430.03,416.40 402.87,417.46 375.70,418.52 C348.13,420.89 320.57,423.27 293.00,425.65 Z" fill="#e23a1c" stroke="#e23a1c" stroke-width="0.25"/>
<path d="M293.00,411.28 C320.57,408.13 348.13,404.99 375.70,401.84 C402.87,399.25 430.03,396.65 457.20,394.05 L457.20,414.24 C430.03,415.48 402.87,416.73 375.70,417.97 C348.13,420.38 320.57,422.80 293.00,425.21 Z" fill="#a3b3b3" stroke="#a3b3b3" stroke-width="0.25"/>
<path d="M293.00,411.28 C320.57,408.13 348.13,404.99 375.70,401.84 C402.87,399.25 430.03,396.65 457.20,394.05 " fill="none" stroke="#4a4a4a" stroke-width="0.8"/>
<line x1="292.40" y1="476.50" x2="457.80" y2="476.50" stroke="#111" stroke-width="1.5" />
<line x1="293.00" y1="476.50" x2="293.00" y2="479.50" stroke="#111" stroke-width="1.0" />
<line x1="375.70" y1="476.50" x2="375.70" y2="479.50" stroke="#111" stroke-width="1.0" />
<line x1="457.20" y1="476.50" x2="457.20" y2="479.50" stroke="#111" stroke-width="1.0" />
<text x="291.40" y="478.50" font-size="7.0" text-anchor="end" font-weight="normal" fill="#1a1a1a" stroke="#1a1a1a" stroke-width="0.1" textLength="9.6" lengthAdjust="spacingAndGlyphs" >0%</text>
<text x="291.40" y="467.53" font-size="7.0" text-anchor="end" font-weight="normal" fill="#1a1a1a" stroke="#1a1a1a" stroke-width="0.1" textLength="14.4" lengthAdjust="spacingAndGlyphs" >10%</text>
<text x="291.40" y="456.56" font-size="7.0" text-anchor="end" font-weight="normal" fill="#1a1a1a" stroke="#1a1a1a" stroke-width="0.1" textLength="14.4" lengthAdjust="spacingAndGlyphs" >20%</text>
<text x="291.40" y="445.59" font-size="7.0" text-anchor="end" font-weight="normal" fill="#1a1a1a" stroke="#1a1a1a" stroke-width="0.1" textLength="14.4" lengthAdjust="spacingAndGlyphs" >30%</text>
<text x="291.40" y="434.62" font-size="7.0" text-anchor="end" font-weight="normal" fill="#1a1a1a" stroke="#1a1a1a" stroke-width="0.1" textLength="14.4" lengthAdjust="spacingAndGlyphs" >40%</text>
<text x="291.40" y="423.65" font-size="7.0" text-anchor="end" font-weight="normal" fill="#1a1a1a" stroke="#1a1a1a" stroke-width="0.1" textLength="14.4" lengthAdjust="spacingAndGlyphs" >50%</text>
<text x="291.40" y="412.68" font-size="7.0" text-anchor="end" font-weight="normal" fill="#1a1a1a" stroke="#1a1a1a" stroke-width="0.1" textLength="14.4" lengthAdjust="spacingAndGlyphs" >60%</text>
<text x="291.40" y="401.71" font-size="7.0" text-anchor="end" font-weight="normal" fill="#1a1a1a" stroke="#1a1a1a" stroke-width="0.1" textLength="14.4" lengthAdjust="spacingAndGlyphs" >70%</text>
<text x="291.40" y="390.74" font-size="7.0" text-anchor="end" font-weight="normal" fill="#1a1a1a" stroke="#1a1a1a" stroke-width="0.1" textLength="14.4" lengthAdjust="spacingAndGlyphs" >80%</text>
<text x="291.40" y="379.77" font-size="7.0" text-anchor="end" font-weight="normal" fill="#1a1a1a" stroke="#1a1a1a" stroke-width="0.1" textLength="14.4" lengthAdjust="spacingAndGlyphs" >90%</text>
<text x="291.40" y="368.80" font-size="7.0" text-anchor="end" font-weight="normal" fill="#1a1a1a" stroke="#1a1a1a" stroke-width="0.1" textLength="19.0" lengthAdjust="spacingAndGlyphs" >100%</text>
<text x="355.90" y="357.80" font-size="7.2" text-anchor="start" font-weight="normal" fill="#1a1a1a" stroke="#1a1a1a" stroke-width="0.1" textLength="38.7" lengthAdjust="spacingAndGlyphs" >#030 (GvL)</text>
<text x="455.20" y="379.70" font-size="7.3" text-anchor="end" font-weight="normal" fill="#1a1a1a" stroke="#1a1a1a" stroke-width="0.1" textLength="28.8" lengthAdjust="spacingAndGlyphs" >Top 51-N</text>
<text x="455.20" y="409.90" font-size="7.3" text-anchor="end" font-weight="normal" fill="#1a1a1a" stroke="#1a1a1a" stroke-width="0.1" textLength="34" lengthAdjust="spacingAndGlyphs" >Top 21−50</text>
<text x="293.50" y="487.60" font-size="7.2" text-anchor="middle" font-weight="normal" fill="#1a1a1a" stroke="#1a1a1a" stroke-width="0.1" textLength="22.5" lengthAdjust="spacingAndGlyphs" >PreDLI</text>
<path d="M308.30,477.20 L306.70,482.40 L309.90,482.40 Z" fill="#111"/>
<line x1="308.30" y1="481.00" x2="308.30" y2="490.60" stroke="#1a1a1a" stroke-width="0.9" />
<text x="309.60" y="490.30" font-size="7.2" text-anchor="start" font-weight="normal" fill="#1a1a1a" stroke="#1a1a1a" stroke-width="0.1" textLength="11.5" lengthAdjust="spacingAndGlyphs" >DLI</text>
<text x="375.70" y="487.60" font-size="7.2" text-anchor="middle" font-weight="normal" fill="#1a1a1a" stroke="#1a1a1a" stroke-width="0.1" textLength="18.3" lengthAdjust="spacingAndGlyphs" >d+14</text>
<text x="457.20" y="487.60" font-size="7.2" text-anchor="middle" font-weight="normal" fill="#1a1a1a" stroke="#1a1a1a" stroke-width="0.1" textLength="18.5" lengthAdjust="spacingAndGlyphs" >d+28</text>
<rect x="461.00" y="364.50" width="2.2" height="2.2" fill="#e23a1c"/>
<text transform="translate(464.60,367.40) scale(0.85,1)" font-size="5.0" fill="#111">CSVPREGGHEQYF</text>
<rect x="461.00" y="370.35" width="2.2" height="2.2" fill="#2f72e6"/>
<text transform="translate(464.60,373.25) scale(0.85,1)" font-size="5.0" fill="#111">CASSLYADTYEQYF</text>
<rect x="461.00" y="376.20" width="2.2" height="2.2" fill="#6fdc2a"/>
<text transform="translate(464.60,379.10) scale(0.85,1)" font-size="5.0" fill="#111">CASSLSRDNEQFF</text>
<rect x="461.00" y="382.05" width="2.2" height="2.2" fill="#4a8af2"/>
<text transform="translate(464.60,384.95) scale(0.85,1)" font-size="5.0" fill="#111">CASSLEPSNTGELFF</text>
<rect x="461.00" y="387.90" width="2.2" height="2.2" fill="#ffb80a"/>
<text transform="translate(464.60,390.80) scale(0.85,1)" font-size="5.0" fill="#111">CASSRAGTSGNEQFF</text>
<rect x="461.00" y="393.75" width="2.2" height="2.2" fill="#a9b8b8"/>
<text transform="translate(464.60,396.65) scale(0.85,1)" font-size="5.0" fill="#111">CASSESIVSYSKETQYF</text>
<rect x="461.00" y="399.60" width="2.2" height="2.2" fill="#f5804a"/>
<text transform="translate(464.60,402.50) scale(0.85,1)" font-size="5.0" fill="#111">CASSPKGTYEQYF</text>
<rect x="461.00" y="405.45" width="2.2" height="2.2" fill="#6cc0ff"/>
<text transform="translate(464.60,408.35) scale(0.85,1)" font-size="5.0" fill="#111">CASSSLGGDAFF</text>
<rect x="461.00" y="411.30" width="2.2" height="2.2" fill="#0b5a16"/>
<text transform="translate(464.60,414.20) scale(0.85,1)" font-size="5.0" fill="#111">CASSPPGGGIDIQYF</text>
<rect x="461.00" y="417.15" width="2.2" height="2.2" fill="#0c1c8c"/>
<text transform="translate(464.60,420.05) scale(0.85,1)" font-size="5.0" fill="#111">CASTPGVAPEAFF</text>
<rect x="461.00" y="423.00" width="2.2" height="2.2" fill="#8c5c12"/>
<text transform="translate(464.60,425.90) scale(0.85,1)" font-size="5.0" fill="#111">CASSPWNGTGETQYF</text>
<rect x="461.00" y="428.85" width="2.2" height="2.2" fill="#24464a"/>
<text transform="translate(464.60,431.75) scale(0.85,1)" font-size="5.0" fill="#111">CASSLDLGVLGYGYTF</text>
<rect x="461.00" y="434.70" width="2.2" height="2.2" fill="#a40c0c"/>
<text transform="translate(464.60,437.60) scale(0.85,1)" font-size="5.0" fill="#111">CASSLGTAETQYF</text>
<rect x="461.00" y="440.55" width="2.2" height="2.2" fill="#1c5cd8"/>
<text transform="translate(464.60,443.45) scale(0.85,1)" font-size="5.0" fill="#111">CASSHIRNTGELFF</text>
<rect x="461.00" y="446.40" width="2.2" height="2.2" fill="#5cdc14"/>
<text transform="translate(464.60,449.30) scale(0.85,1)" font-size="5.0" fill="#111">CASSRQETYEQYF</text>
<rect x="461.00" y="452.25" width="2.2" height="2.2" fill="#3a82f2"/>
<text transform="translate(464.60,455.15) scale(0.85,1)" font-size="5.0" fill="#111">CASTKGGLRTGELFF</text>
<rect x="461.00" y="458.10" width="2.2" height="2.2" fill="#ffb400"/>
<text transform="translate(464.60,461.00) scale(0.85,1)" font-size="5.0" fill="#111">CSARDLAAQHNEQFF</text>
<rect x="461.00" y="463.95" width="2.2" height="2.2" fill="#a4b4b4"/>
<text transform="translate(464.60,466.85) scale(0.85,1)" font-size="5.0" fill="#111">CASSTGGYEQYF</text>
<rect x="461.00" y="469.80" width="2.2" height="2.2" fill="#ff5c12"/>
<text transform="translate(464.60,472.70) scale(0.85,1)" font-size="5.0" fill="#111">CATSDWRDRETQYF</text>
<rect x="461.00" y="475.65" width="2.2" height="2.2" fill="#5cb6fa"/>
<text transform="translate(464.60,478.55) scale(0.85,1)" font-size="5.0" fill="#111">CASSALSTEAFF</text>
<text x="7.00" y="199.00" font-size="11" text-anchor="start" font-weight="bold" fill="#000" stroke="#000" stroke-width="0.0" >C</text>
<text x="7.00" y="357.20" font-size="11" text-anchor="start" font-weight="bold" fill="#000" stroke="#000" stroke-width="0.0" >D</text>
<text transform="translate(12.7,266) rotate(-90)" font-size="7.6" text-anchor="middle" fill="#1a1a1a" stroke="#1a1a1a" stroke-width="0.08" textLength="60" lengthAdjust="spacingAndGlyphs">CD8<tspan font-size="5" dy="-2.8">+</tspan><tspan dy="2.8"> Repertoire (%)</tspan></text>
<text transform="translate(267.6,266) rotate(-90)" font-size="7.6" text-anchor="middle" fill="#1a1a1a" stroke="#1a1a1a" stroke-width="0.08" textLength="60" lengthAdjust="spacingAndGlyphs">CD8<tspan font-size="5" dy="-2.8">+</tspan><tspan dy="2.8"> Repertoire (%)</tspan></text>
<text transform="translate(12.7,421.5) rotate(-90)" font-size="7.6" text-anchor="middle" fill="#1a1a1a" stroke="#1a1a1a" stroke-width="0.08" textLength="60" lengthAdjust="spacingAndGlyphs">CD8<tspan font-size="5" dy="-2.8">+</tspan><tspan dy="2.8"> Repertoire (%)</tspan></text>
<text transform="translate(270.5,423) rotate(-90)" font-size="7.6" text-anchor="middle" fill="#1a1a1a" stroke="#1a1a1a" stroke-width="0.08" textLength="60" lengthAdjust="spacingAndGlyphs">CD8<tspan font-size="5" dy="-2.8">+</tspan><tspan dy="2.8"> Repertoire (%)</tspan></text>
<rect x="0.6" y="0.6" width="518.4" height="496.0" fill="none" stroke="#000" stroke-width="1.4"/>
</svg>
</body></html>
